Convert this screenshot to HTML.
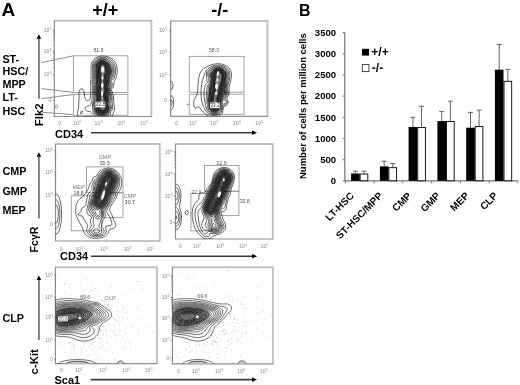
<!DOCTYPE html><html><head><meta charset="utf-8"><style>html,body{margin:0;padding:0;background:#fff;}svg{display:block;will-change:transform}</style></head><body>
<svg width="520" height="385" viewBox="0 0 520 385" font-family='"Liberation Sans", sans-serif'>
<rect width="520" height="385" fill="#fff"/>
<defs>
<clipPath id="cp1"><rect x="54.3" y="20.3" width="97.60000000000001" height="96.2"/></clipPath>
<clipPath id="cp2"><rect x="170.7" y="20.5" width="97.19999999999999" height="95.8"/></clipPath>
<clipPath id="cp3"><rect x="55.5" y="143.5" width="104.80000000000001" height="97.5"/></clipPath>
<clipPath id="cp4"><rect x="175.5" y="143.5" width="97.80000000000001" height="95.5"/></clipPath>
<clipPath id="cp5"><rect x="55.4" y="266.8" width="102.1" height="96.89999999999998"/></clipPath>
<clipPath id="cp6"><rect x="172.4" y="266.8" width="100.99999999999997" height="97.0"/></clipPath>
<filter id="soft" x="-5%" y="-5%" width="110%" height="110%"><feGaussianBlur stdDeviation="0.3"/></filter>
</defs>
<text x="1.6" y="15.7" font-size="19" font-weight="bold">A</text>
<text x="92.3" y="16.1" font-size="18" font-weight="bold">+/+</text>
<text x="211.3" y="16.2" font-size="18" font-weight="bold">-/-</text>
<text x="299" y="16.2" font-size="16" font-weight="bold">B</text>
<path d="M54.3 20.8 H151.4 V116.5" fill="none" stroke="#c2c2c2" stroke-width="1.9"/>
<path d="M54.3 20.3 V116.5 H151.9" fill="none" stroke="#8e8e8e" stroke-width="1.2"/>
<path d="M170.7 21.0 H267.4 V116.3" fill="none" stroke="#c2c2c2" stroke-width="1.9"/>
<path d="M170.7 20.5 V116.3 H267.9" fill="none" stroke="#8e8e8e" stroke-width="1.2"/>
<path d="M55.5 144.0 H159.8 V241.0" fill="none" stroke="#c2c2c2" stroke-width="1.9"/>
<path d="M55.5 143.5 V241.0 H160.3" fill="none" stroke="#8e8e8e" stroke-width="1.2"/>
<path d="M175.5 144.0 H272.8 V239.0" fill="none" stroke="#c2c2c2" stroke-width="1.9"/>
<path d="M175.5 143.5 V239.0 H273.3" fill="none" stroke="#8e8e8e" stroke-width="1.2"/>
<path d="M55.4 267.3 H157.0 V363.7" fill="none" stroke="#c2c2c2" stroke-width="1.9"/>
<path d="M55.4 266.8 V363.7 H157.5" fill="none" stroke="#8e8e8e" stroke-width="1.2"/>
<path d="M172.4 267.3 H272.9 V363.8" fill="none" stroke="#c2c2c2" stroke-width="1.9"/>
<path d="M172.4 266.8 V363.8 H273.4" fill="none" stroke="#8e8e8e" stroke-width="1.2"/>
<text x="51.5" y="31.7" font-size="5.2" fill="#8a8a8a" text-anchor="end">10<tspan font-size="3.6399999999999997" dy="-2">5</tspan></text>
<text x="51.5" y="53" font-size="5.2" fill="#8a8a8a" text-anchor="end">10<tspan font-size="3.6399999999999997" dy="-2">4</tspan></text>
<text x="51.5" y="76.3" font-size="5.2" fill="#8a8a8a" text-anchor="end">10<tspan font-size="3.6399999999999997" dy="-2">3</tspan></text>
<text x="51.5" y="102.2" font-size="5.2" fill="#8a8a8a" text-anchor="end">0</text>
<text x="59.5" y="124.6" font-size="5.2" fill="#8a8a8a" text-anchor="middle">0</text>
<text x="77" y="124.6" font-size="5.2" fill="#8a8a8a" text-anchor="middle">10<tspan font-size="3.6399999999999997" dy="-2">2</tspan></text>
<text x="98.5" y="124.6" font-size="5.2" fill="#8a8a8a" text-anchor="middle">10<tspan font-size="3.6399999999999997" dy="-2">3</tspan></text>
<text x="121.3" y="124.6" font-size="5.2" fill="#8a8a8a" text-anchor="middle">10<tspan font-size="3.6399999999999997" dy="-2">4</tspan></text>
<text x="144" y="124.6" font-size="5.2" fill="#8a8a8a" text-anchor="middle">10<tspan font-size="3.6399999999999997" dy="-2">5</tspan></text>
<text x="166.8" y="31.8" font-size="5.2" fill="#8a8a8a" text-anchor="end">10<tspan font-size="3.6399999999999997" dy="-2">5</tspan></text>
<text x="166.8" y="53.6" font-size="5.2" fill="#8a8a8a" text-anchor="end">10<tspan font-size="3.6399999999999997" dy="-2">4</tspan></text>
<text x="166.8" y="76.6" font-size="5.2" fill="#8a8a8a" text-anchor="end">10<tspan font-size="3.6399999999999997" dy="-2">3</tspan></text>
<text x="166.8" y="102" font-size="5.2" fill="#8a8a8a" text-anchor="end">0</text>
<text x="176.4" y="124.6" font-size="5.2" fill="#8a8a8a" text-anchor="middle">0</text>
<text x="193" y="124.6" font-size="5.2" fill="#8a8a8a" text-anchor="middle">10<tspan font-size="3.6399999999999997" dy="-2">2</tspan></text>
<text x="214" y="124.6" font-size="5.2" fill="#8a8a8a" text-anchor="middle">10<tspan font-size="3.6399999999999997" dy="-2">3</tspan></text>
<text x="236.9" y="124.6" font-size="5.2" fill="#8a8a8a" text-anchor="middle">10<tspan font-size="3.6399999999999997" dy="-2">4</tspan></text>
<text x="259.2" y="124.6" font-size="5.2" fill="#8a8a8a" text-anchor="middle">10<tspan font-size="3.6399999999999997" dy="-2">5</tspan></text>
<text x="53" y="152.3" font-size="5.2" fill="#8a8a8a" text-anchor="end">10<tspan font-size="3.6399999999999997" dy="-2">5</tspan></text>
<text x="53" y="173.8" font-size="5.2" fill="#8a8a8a" text-anchor="end">10<tspan font-size="3.6399999999999997" dy="-2">4</tspan></text>
<text x="53" y="197" font-size="5.2" fill="#8a8a8a" text-anchor="end">10<tspan font-size="3.6399999999999997" dy="-2">3</tspan></text>
<text x="53" y="225.6" font-size="5.2" fill="#8a8a8a" text-anchor="end">0</text>
<text x="61.3" y="250.8" font-size="5.2" fill="#8a8a8a" text-anchor="middle">0</text>
<text x="79.5" y="250.8" font-size="5.2" fill="#8a8a8a" text-anchor="middle">10<tspan font-size="3.6399999999999997" dy="-2">2</tspan></text>
<text x="103.8" y="250.8" font-size="5.2" fill="#8a8a8a" text-anchor="middle">10<tspan font-size="3.6399999999999997" dy="-2">3</tspan></text>
<text x="127.6" y="250.8" font-size="5.2" fill="#8a8a8a" text-anchor="middle">10<tspan font-size="3.6399999999999997" dy="-2">4</tspan></text>
<text x="150.4" y="250.8" font-size="5.2" fill="#8a8a8a" text-anchor="middle">10<tspan font-size="3.6399999999999997" dy="-2">5</tspan></text>
<text x="172.5" y="153.5" font-size="5.2" fill="#8a8a8a" text-anchor="end">10<tspan font-size="3.6399999999999997" dy="-2">5</tspan></text>
<text x="172.5" y="175.7" font-size="5.2" fill="#8a8a8a" text-anchor="end">10<tspan font-size="3.6399999999999997" dy="-2">4</tspan></text>
<text x="172.5" y="197.6" font-size="5.2" fill="#8a8a8a" text-anchor="end">10<tspan font-size="3.6399999999999997" dy="-2">3</tspan></text>
<text x="172.5" y="224.4" font-size="5.2" fill="#8a8a8a" text-anchor="end">0</text>
<text x="180.4" y="248.1" font-size="5.2" fill="#8a8a8a" text-anchor="middle">0</text>
<text x="197" y="248.1" font-size="5.2" fill="#8a8a8a" text-anchor="middle">10<tspan font-size="3.6399999999999997" dy="-2">2</tspan></text>
<text x="220.2" y="248.1" font-size="5.2" fill="#8a8a8a" text-anchor="middle">10<tspan font-size="3.6399999999999997" dy="-2">3</tspan></text>
<text x="242.8" y="248.1" font-size="5.2" fill="#8a8a8a" text-anchor="middle">10<tspan font-size="3.6399999999999997" dy="-2">4</tspan></text>
<text x="264.5" y="248.1" font-size="5.2" fill="#8a8a8a" text-anchor="middle">10<tspan font-size="3.6399999999999997" dy="-2">5</tspan></text>
<text x="53" y="276.6" font-size="5.2" fill="#8a8a8a" text-anchor="end">10<tspan font-size="3.6399999999999997" dy="-2">5</tspan></text>
<text x="53" y="299" font-size="5.2" fill="#8a8a8a" text-anchor="end">10<tspan font-size="3.6399999999999997" dy="-2">4</tspan></text>
<text x="53" y="319.4" font-size="5.2" fill="#8a8a8a" text-anchor="end">10<tspan font-size="3.6399999999999997" dy="-2">3</tspan></text>
<text x="53" y="342.1" font-size="5.2" fill="#8a8a8a" text-anchor="end">10<tspan font-size="3.6399999999999997" dy="-2">2</tspan></text>
<text x="53" y="360.8" font-size="5.2" fill="#8a8a8a" text-anchor="end">0</text>
<text x="61.4" y="372.4" font-size="5.2" fill="#8a8a8a" text-anchor="middle">0</text>
<text x="79" y="372.4" font-size="5.2" fill="#8a8a8a" text-anchor="middle">10<tspan font-size="3.6399999999999997" dy="-2">2</tspan></text>
<text x="103.2" y="372.4" font-size="5.2" fill="#8a8a8a" text-anchor="middle">10<tspan font-size="3.6399999999999997" dy="-2">3</tspan></text>
<text x="126.2" y="372.4" font-size="5.2" fill="#8a8a8a" text-anchor="middle">10<tspan font-size="3.6399999999999997" dy="-2">4</tspan></text>
<text x="148.6" y="372.4" font-size="5.2" fill="#8a8a8a" text-anchor="middle">10<tspan font-size="3.6399999999999997" dy="-2">5</tspan></text>
<text x="169.5" y="277.6" font-size="5.2" fill="#8a8a8a" text-anchor="end">10<tspan font-size="3.6399999999999997" dy="-2">5</tspan></text>
<text x="169.5" y="299.3" font-size="5.2" fill="#8a8a8a" text-anchor="end">10<tspan font-size="3.6399999999999997" dy="-2">4</tspan></text>
<text x="169.5" y="320" font-size="5.2" fill="#8a8a8a" text-anchor="end">10<tspan font-size="3.6399999999999997" dy="-2">3</tspan></text>
<text x="169.5" y="342.1" font-size="5.2" fill="#8a8a8a" text-anchor="end">10<tspan font-size="3.6399999999999997" dy="-2">2</tspan></text>
<text x="169.5" y="360" font-size="5.2" fill="#8a8a8a" text-anchor="end">0</text>
<text x="178.5" y="372.8" font-size="5.2" fill="#8a8a8a" text-anchor="middle">0</text>
<text x="195.8" y="372.8" font-size="5.2" fill="#8a8a8a" text-anchor="middle">10<tspan font-size="3.6399999999999997" dy="-2">2</tspan></text>
<text x="219" y="372.8" font-size="5.2" fill="#8a8a8a" text-anchor="middle">10<tspan font-size="3.6399999999999997" dy="-2">3</tspan></text>
<text x="241.2" y="372.8" font-size="5.2" fill="#8a8a8a" text-anchor="middle">10<tspan font-size="3.6399999999999997" dy="-2">4</tspan></text>
<text x="263.8" y="372.8" font-size="5.2" fill="#8a8a8a" text-anchor="middle">10<tspan font-size="3.6399999999999997" dy="-2">5</tspan></text>
<path d="M54.6 29.9h-2 M54.6 51.2h-2 M54.6 74.5h-2 M54.6 100.4h-2 M54.6 44.8h-1.2 M54.6 41h-1.2 M54.6 38.4h-1.2 M54.6 36.3h-1.2 M54.6 34.6h-1.2 M54.6 33.2h-1.2 M54.6 32h-1.2 M54.6 30.9h-1.2 M54.6 67.5h-1.2 M54.6 63.4h-1.2 M54.6 60.5h-1.2 M54.6 58.2h-1.2 M54.6 56.4h-1.2 M54.6 54.8h-1.2 M54.6 53.5h-1.2 M54.6 52.3h-1.2 M171 30h-2 M171 51.8h-2 M171 74.8h-2 M171 100.2h-2 M171 45.2h-1.2 M171 41.4h-1.2 M171 38.7h-1.2 M171 36.6h-1.2 M171 34.8h-1.2 M171 33.4h-1.2 M171 32.1h-1.2 M171 31h-1.2 M171 67.9h-1.2 M171 63.8h-1.2 M171 61h-1.2 M171 58.7h-1.2 M171 56.9h-1.2 M171 55.4h-1.2 M171 54h-1.2 M171 52.9h-1.2 M56.1 150.5h-2 M56.1 172h-2 M56.1 195.2h-2 M56.1 223.8h-2 M56.1 165.5h-1.2 M56.1 161.7h-1.2 M56.1 159.1h-1.2 M56.1 157h-1.2 M56.1 155.3h-1.2 M56.1 153.8h-1.2 M56.1 152.6h-1.2 M56.1 151.5h-1.2 M56.1 188.2h-1.2 M56.1 184.1h-1.2 M56.1 181.2h-1.2 M56.1 179h-1.2 M56.1 177.1h-1.2 M56.1 175.6h-1.2 M56.1 174.2h-1.2 M56.1 173.1h-1.2 M175.6 151.7h-2 M175.6 173.9h-2 M175.6 195.8h-2 M175.6 222.6h-2 M175.6 167.2h-1.2 M175.6 163.3h-1.2 M175.6 160.5h-1.2 M175.6 158.4h-1.2 M175.6 156.6h-1.2 M175.6 155.1h-1.2 M175.6 153.9h-1.2 M175.6 152.7h-1.2 M175.6 189.2h-1.2 M175.6 185.4h-1.2 M175.6 182.6h-1.2 M175.6 180.5h-1.2 M175.6 178.8h-1.2 M175.6 177.3h-1.2 M175.6 176h-1.2 M175.6 174.9h-1.2 M56.1 274.8h-2 M56.1 297.2h-2 M56.1 317.6h-2 M56.1 340.3h-2 M56.1 359h-2 M56.1 290.5h-1.2 M56.1 286.5h-1.2 M56.1 283.7h-1.2 M56.1 281.5h-1.2 M56.1 279.8h-1.2 M56.1 278.3h-1.2 M56.1 277h-1.2 M56.1 275.8h-1.2 M56.1 311.5h-1.2 M56.1 307.9h-1.2 M56.1 305.3h-1.2 M56.1 303.3h-1.2 M56.1 301.7h-1.2 M56.1 300.4h-1.2 M56.1 299.2h-1.2 M56.1 298.1h-1.2 M56.1 333.5h-1.2 M56.1 329.5h-1.2 M56.1 326.6h-1.2 M56.1 324.4h-1.2 M56.1 322.6h-1.2 M56.1 321.1h-1.2 M56.1 319.8h-1.2 M56.1 318.6h-1.2 M172.6 275.8h-2 M172.6 297.5h-2 M172.6 318.2h-2 M172.6 340.3h-2 M172.6 358.2h-2 M172.6 291h-1.2 M172.6 287.1h-1.2 M172.6 284.4h-1.2 M172.6 282.3h-1.2 M172.6 280.6h-1.2 M172.6 279.2h-1.2 M172.6 277.9h-1.2 M172.6 276.8h-1.2 M172.6 312h-1.2 M172.6 308.3h-1.2 M172.6 305.7h-1.2 M172.6 303.7h-1.2 M172.6 302.1h-1.2 M172.6 300.7h-1.2 M172.6 299.5h-1.2 M172.6 298.4h-1.2 M172.6 333.6h-1.2 M172.6 329.8h-1.2 M172.6 327h-1.2 M172.6 324.9h-1.2 M172.6 323.1h-1.2 M172.6 321.6h-1.2 M172.6 320.3h-1.2 M172.6 319.2h-1.2" stroke="#777" stroke-width="0.7" fill="none"/>
<rect x="73.4" y="55.8" width="54.5" height="36.6" fill="none" stroke="#9a9a9a" stroke-width="0.9"/>
<rect x="73.4" y="94.3" width="54.5" height="20.9" fill="none" stroke="#9a9a9a" stroke-width="0.9"/>
<rect x="189.3" y="56.4" width="54.7" height="35.8" fill="none" stroke="#9a9a9a" stroke-width="0.9"/>
<rect x="189.3" y="94.2" width="54.7" height="20.1" fill="none" stroke="#9a9a9a" stroke-width="0.9"/>
<rect x="86.5" y="166.9" width="36.5" height="25.9" fill="none" stroke="#9a9a9a" stroke-width="0.9"/>
<rect x="103" y="192.8" width="20" height="24.9" fill="none" stroke="#9a9a9a" stroke-width="0.9"/>
<rect x="71.3" y="195.8" width="30.4" height="35" fill="none" stroke="#9a9a9a" stroke-width="0.9"/>
<rect x="204.5" y="165.5" width="34.5" height="25.8" fill="none" stroke="#9a9a9a" stroke-width="0.9"/>
<rect x="221" y="191.2" width="17.9" height="24.4" fill="none" stroke="#9a9a9a" stroke-width="0.9"/>
<rect x="190.9" y="193.7" width="21.1" height="37.1" fill="none" stroke="#9a9a9a" stroke-width="0.9"/>
<path d="M41.6 62.6 L73.4 55.8 M41.6 88.6 L73.4 92.4 M41.8 98.6 L73.4 94.5 M42.5 112.3 L73.4 114.6" stroke="#8f8f8f" stroke-width="1" fill="none"/>
<path d="M38.9 37.8 V98.7" stroke="#7a7a7a" stroke-width="1.9"/>
<path d="M38.9 34.3 L36.6 38.8 L41.2 38.8 Z" fill="#000"/>
<path d="M38.9 155.7 V218.4" stroke="#7a7a7a" stroke-width="1.9"/>
<path d="M38.9 152.2 L36.6 156.7 L41.2 156.7 Z" fill="#000"/>
<path d="M38.9 279 V340" stroke="#7a7a7a" stroke-width="1.9"/>
<path d="M38.9 275.5 L36.6 280 L41.2 280 Z" fill="#000"/>
<path d="M91 132.8 H253.5" stroke="#3c3c3c" stroke-width="1.6"/>
<path d="M257 132.8 L252 130.5 L252 135.1 Z" fill="#000"/>
<path d="M91 256.3 H253.7" stroke="#3c3c3c" stroke-width="1.6"/>
<path d="M257.2 256.3 L252.2 254 L252.2 258.6 Z" fill="#000"/>
<path d="M90.7 379.6 H253.5" stroke="#3c3c3c" stroke-width="1.6"/>
<path d="M257 379.6 L252 377.3 L252 381.9 Z" fill="#000"/>
<g font-size="11" font-weight="bold">
<text x="55" y="137.6">CD34</text>
<text x="60" y="259.8">CD34</text>
<text x="54.5" y="384.2">Sca1</text>
<text transform="translate(42.8 126.2) rotate(-90)" font-size="11.4">Flk2</text>
<text transform="translate(38.2 252.4) rotate(-90)" font-size="10.6">Fc&#947;R</text>
<text transform="translate(38.2 374.4) rotate(-90)" font-size="11.4">c-Kit</text>
</g>
<g font-size="10.8" font-weight="bold">
<text x="2.4" y="63.1">ST-</text>
<text x="2.4" y="75.4">HSC/</text>
<text x="2.4" y="88.1">MPP</text>
<text x="2.4" y="101.4">LT-</text>
<text x="2.4" y="115">HSC</text>
<text x="2.4" y="175">CMP</text>
<text x="2.4" y="195">GMP</text>
<text x="2.4" y="214">MEP</text>
<text x="2.4" y="322">CLP</text>
</g>
<g clip-path="url(#cp1)"><g filter="url(#soft)">
<path d="M103.3 115.1 101.3 115.1 98.8 114.5 97.5 113.9 96.5 112.8 95.6 111.5 95.3 110.5 95.4 107.3 94.9 104 95 102.8 96.3 99 96.5 97.8 95.8 91 96.3 85 95.9 82 96.2 79.8 96 77 96.2 68 95.6 65 96.2 63.8 98.5 61.5 100.3 60.6 102.3 60.3 104 60.5 105.5 61 109.1 64 111 67.8 111.4 69.5 111.6 71 111.4 72.5 110.9 74.5 109.9 77 108.5 79.8 108.2 81 108.6 84.5 107.9 87.8 108.2 91 108.2 94.3 108.6 98.5 108.4 100.3 107.7 103.5 107.9 104.3 109 106.8 109.1 108.5 108.9 109.3 106.6 113.5 105.3 114.5 103.3 115.1Z" fill="#4a4a4a" stroke="none"/>
<path d="M103 113.1 101 113 98.3 112 97.5 111.3 97.2 110.3 97.3 108.3 97.1 104 97.2 103 98.4 98.8 98 90.5 98.2 89 99.1 86.5 99.3 85.3 98.6 82 98.6 79.5 97.9 76.8 97.8 72 98.3 68.3 98.1 65.5 98.7 64.3 99.9 63 101 62.4 102.5 62.1 103.5 62.3 104.5 62.6 106.5 64.3 108.5 69.5 108.9 71.3 108.8 72.5 108.3 74.3 107.8 75.1 106.7 76.3 106.5 77 106.6 78.8 106.5 84.3 106 87.5 106.4 90.8 105.9 94.8 106.5 100 106 103.8 106.2 105 107.2 107 107.3 108.3 106.9 109.5 105.3 111.9 104.3 112.7 103 113.1Z" fill="#333" stroke="none"/>
<path d="M102.8 79.3 101.8 78.7 101 77.5 101 76.7 102 75.3 102.2 74.5 102 73.8 100.7 72.5 100.5 71.3 101 65.8 101.7 64.8 102.8 64.4 104 64.8 104.7 65.8 105.6 71.3 105.3 72.7 103.9 76 103.4 78.5 102.8 79.3Z M103.8 110.1 102.5 110.2 101 109.5 99.6 108 99.1 106.8 100.2 100.8 100.9 94.5 100.4 90.8 100.8 89.7 102.6 86.5 101.8 83.8 101.7 82 102 80.7 102.8 80.1 103.3 80.6 103.7 82 103.9 84 103.5 86.5 104.5 89.3 104.7 90.5 104.4 92.3 103.1 94.3 102.9 95 104.4 99.8 103.9 105 104.1 105.8 105.1 107.3 105.3 108 104.8 109.3 103.8 110.1Z" fill="#777" stroke="none"/>
<path d="M104.5 120.6 101.5 120.6 98.5 120 96.3 119 92.3 116.4 91 116 88.3 116.3 85.5 116.3 82 117.8 80.3 117.9 79.3 117.4 78.3 116.5 77.7 115.3 77.4 113.8 77.5 112 78.6 107.5 78.8 102.5 79.2 97.8 78.9 93 79.4 90.5 80 89.5 81 88.8 82 88.8 82.9 89.3 83.6 90.3 84.1 91.5 84.7 96.8 85.6 99.3 86.5 100.3 87.5 100.7 88.8 100.6 89.5 100.1 90.3 98.3 90.7 94.5 90.8 86 90.6 82 90.9 79.5 91.1 65.8 91.5 63.3 92.2 61.5 93 60.3 94 59.1 95.3 58.1 97 57.2 98.5 56.6 100.5 56.2 102.3 56 105.3 56.2 108.3 57 111 58.2 113 59.7 114.6 61.5 116 64 116.9 67 117.3 70.3 117.2 72.5 116.9 74.8 115.9 78 114.1 81.8 113.4 87.3 112.9 88 111.3 89 110.9 89.5 111 90.1 112.4 91.5 112.5 93.3 113.5 96 113.7 101.5 114.5 107.8 114.3 110.3 112.7 115 111.3 117.1 109.8 118.4 108.3 119.3 106.3 120.2 104.5 120.6" fill="none" stroke="#000" stroke-width="0.6"/>
<path d="M103.3 118.8 101.5 118.8 99.8 118.5 98 117.9 96.5 117.2 94.3 115.5 90.5 111.8 89.8 111.5 87.8 111.5 86.5 110.8 85.4 109.5 85 108.3 85.1 107.5 86.3 106.5 87.5 106 89.5 105.9 90.3 105.3 90.8 104.3 91.9 100.5 92.3 95.3 92.4 85.5 91.9 82 92.4 79.3 92.5 65.5 92.9 63.5 93.5 62 94.4 60.8 96.5 58.9 99.3 57.7 102.5 57.3 105 57.5 107.5 58.2 110 59.4 112.1 61 113.7 63 114.7 65.3 115.5 68 115.7 70.8 115.4 74.3 114 78.3 113 79.6 111.2 80.5 110.8 81 111 81.5 112 82.8 112.3 83.8 111.9 87 111.5 87.8 110.5 88.9 110.3 89.5 111.2 91.5 111.3 93.5 112.3 97.5 112.1 102 112.7 107 112.7 109.3 112.1 110.3 110.5 111.6 110.4 112.3 110.5 114.5 110.2 115.3 109.4 116.3 108.3 117.2 106.8 118 105.3 118.5 103.3 118.8 M81.5 113.8 80.8 113.8 80.5 113.3 80.5 112.5 81 111.4 82 110.7 82.4 111 82.5 112 82.2 113 81.5 113.8" fill="none" stroke="#000" stroke-width="0.6"/>
<path d="M104.3 117.3 102.3 117.5 100.3 117.3 98.3 116.7 96.5 115.8 95 114.5 93.7 112.8 92.9 111 92.6 109 92.5 103.8 93.2 100.3 93.7 95.5 93.4 90.8 93.7 84.5 92.9 82 93.6 79.5 93.6 64.5 94.9 62 96.8 60 99.3 58.8 102.3 58.2 104.5 58.4 106.8 59.1 109 60.4 111.3 62.2 112.5 63.8 113.5 65.8 114.2 68.3 114.4 70.5 114.1 73.8 113 77.3 112 78.8 110.2 80.3 109.9 81 110.1 81.8 110.9 83.3 111 84.3 110.8 86.3 109.7 89.5 110.2 91.5 110.3 93.8 111.4 97.8 111.3 99 110.7 102.8 111.4 106.5 111.4 108.8 111 109.8 109.5 111.4 109.1 114 108.5 115.1 106.8 116.5 104.3 117.3" fill="none" stroke="#000" stroke-width="0.6"/>
<path d="M102.5 116.6 100.3 116.4 98 115.6 96.5 114.7 95 113 94.3 111.8 93.9 110.5 93.7 106.8 93.4 104 94.3 99.9 94.8 96.3 94.4 90.5 94.8 84.3 93.9 82 94.6 79.5 94.7 68.3 94.3 65.8 94.3 64.8 94.7 63.8 95.5 62.6 97.5 60.5 99.8 59.4 102.5 59 104.5 59.2 106.5 60 110.8 63.3 111.8 64.8 112.6 66.8 113.2 69 113.4 71 113 73.5 112.2 76.3 111.3 78 109.6 80 109.3 81 110 83.5 110.1 84.5 109.9 85.8 109.3 88 109.1 89.5 109.5 91.5 109.6 94 110.5 98.3 109.4 103.3 110.4 106.5 110.5 108.8 110.2 109.5 108.9 111.3 108.3 113.5 107.5 114.8 106.5 115.5 105.3 116.1 102.5 116.6" fill="none" stroke="#000" stroke-width="0.6"/>
<path d="M104 115.6 102 115.8 99.8 115.4 97.8 114.7 96.3 113.4 95.3 112 94.7 110.8 94.7 107 94.2 104 94.3 103 95.4 99 95.7 97.3 95.2 90.8 95.7 84.3 95 82 95.5 79.8 95.3 77 95.5 68.3 95 65 95.7 63.5 98 61.1 100 60.1 102.3 59.7 104.3 59.9 105.8 60.5 109.8 63.7 110.7 65 111.6 67 112.2 69 112.4 70.8 112.2 72.8 111.5 75.3 110.4 77.8 109 79.9 108.7 81 109.3 84.5 108.6 87.5 108.6 89.3 108.8 91.3 108.8 94 109.4 98.3 108.4 103.3 108.5 104 109.6 106.5 109.7 108.5 109.4 109.5 108.3 111.1 107.7 113 107.2 113.8 105.8 114.9 104 115.6" fill="none" stroke="#000" stroke-width="0.6"/>
<path d="M102.5 115.1 100.5 114.9 98.3 114.2 97.3 113.5 96.2 112.3 95.4 110.5 95.5 107.5 95 103.8 95.1 102.8 96.5 98.8 96.6 97.8 95.9 91 96.4 85.3 96.3 83.8 96 82 96.3 79.8 96.1 77 96.3 68 95.7 65 96.4 63.8 98.8 61.5 100.5 60.7 102.5 60.4 104.3 60.6 105.5 61.1 109 64 110.8 67.8 111.3 69.5 111.4 71 111.3 72.8 110.7 74.8 108.5 79.8 108.2 81 108.5 84.5 107.8 87.8 108.2 91 108.1 94 108.5 98.8 107.6 103.5 107.8 104.4 108.9 106.8 109 108.5 107 112.8 106.4 113.5 104.8 114.6 102.5 115.1" fill="none" stroke="#000" stroke-width="0.6"/>
<path d="M103.3 113.8 101.8 113.9 100.1 113.5 98 112.8 97 111.8 96.5 110.3 96.7 107.8 96.2 104 96.4 102.8 97.6 99.5 97.8 98 97.4 94.8 97.2 91.5 97.3 89.3 97.9 85.8 97.5 82.3 97.6 79.5 97.2 76.8 97.1 71.8 97.5 67.8 97.1 65.3 97.6 64.3 99.5 62.4 101 61.7 102.5 61.5 103.8 61.6 104.9 62 107.5 64.3 109.4 68.8 109.9 71.3 109.4 74 108 77.3 107.3 80 107.2 84.8 106.7 87.5 107.1 90.5 106.8 94.5 107.2 99.5 106.6 103.8 106.8 104.8 107.9 107 108 108.5 107.6 109.5 105.7 112.5 104.8 113.3 103.3 113.8" fill="none" stroke="#000" stroke-width="0.45"/>
<path d="M103.5 112.1 102.5 112.3 101.8 112.2 99.8 110.9 98.3 110.4 98.1 109.8 97.8 106.8 98 103.5 99.1 98.5 98.8 90.3 99.2 88.8 100.2 86.8 100.4 85.8 99.7 81.5 99.6 79.5 98.6 77 98.4 71.8 99 68.8 99.1 65.8 99.4 64.8 100 63.9 100.8 63.3 102.5 62.8 104.3 63.2 105.8 64.5 107.6 70 107.9 71.5 107.5 73.3 105.8 75.5 105.4 77 105.7 79.5 105.8 83.8 105.4 87.5 105.8 90.8 105 94.8 105.9 100 105.3 104.3 105.6 105.3 106.6 107.3 106.7 108.3 106.4 109.3 105.5 110.5 104.5 111.5 103.5 112.1" fill="none" stroke="#000" stroke-width="0.45"/>
<path d="M102.8 79.3 101.8 78.7 101 77.5 101 76.7 102 75.3 102.2 74.5 102 73.8 100.7 72.5 100.5 71.3 101 65.8 101.7 64.8 102.8 64.4 104 64.8 104.7 65.8 105.6 71.3 105.3 72.7 103.9 76 103.4 78.5 102.8 79.3 M103.8 110.1 102.5 110.2 101 109.5 99.6 108 99.1 106.8 100.2 100.8 100.9 94.5 100.4 90.8 100.8 89.7 102.6 86.5 101.8 83.8 101.7 82 102 80.7 102.8 80.1 103.3 80.6 103.7 82 103.9 84 103.5 86.5 104.5 89.3 104.7 90.5 104.4 92.3 103.1 94.3 102.9 95 104.4 99.8 103.9 105 104.1 105.8 105.1 107.3 105.3 108 104.8 109.3 103.8 110.1" fill="none" stroke="#000" stroke-width="0.45"/>
</g></g>
<path d="M102.6 67 L102.4 80 L102 99" stroke="#9a9a9a" stroke-width="1.6" fill="none"/>
<ellipse cx="102.6" cy="69.5" rx="1.6" ry="3" transform="rotate(0 102.6 69.5)" fill="#f2f2f2"/>
<ellipse cx="102.5" cy="78" rx="1.1" ry="1.8" transform="rotate(0 102.5 78)" fill="#f2f2f2"/>
<ellipse cx="102.3" cy="85.5" rx="1.3" ry="2.4" transform="rotate(0 102.3 85.5)" fill="#f2f2f2"/>
<ellipse cx="102.1" cy="93.5" rx="1.1" ry="2.4" transform="rotate(0 102.1 93.5)" fill="#f2f2f2"/>
<g clip-path="url(#cp2)"><g filter="url(#soft)">
<path d="M216 112.3 215 112.5 213.8 112.3 211.8 111.5 210.2 110 209.6 109 209.3 108 209.4 105 208.4 101.8 208.3 100 209.1 91.5 209.3 87.5 209.6 86.2 210.7 83.8 210.7 80.8 211 78.8 210.9 78 209.8 75.5 209.6 74.2 210.2 73 214 69.3 216.2 68.3 218.8 68 221.5 68.6 222.8 69.2 224 70.1 225 71.2 225.8 72.5 226.3 73.8 226.4 75 225.5 81 225.3 85.8 224.5 88.8 225.2 91.5 225.1 93 224.8 93.8 223 95.6 222 97.5 220.6 103.5 220.1 106.8 219.5 108.5 217.8 111.1 217 111.8 216 112.3Z" fill="#4a4a4a" stroke="none"/>
<path d="M215.5 110 214.5 110.1 213.5 110 212.7 109.5 212.2 108.8 211.2 105.3 210.6 100 211.1 96.8 211.3 93.5 212.9 88 212.8 86.8 213 84.5 212.8 81.5 213.3 78.8 213.1 76 213.3 74.5 214.2 72.2 215.2 70.9 216.8 70 218.8 69.8 220.8 70.3 222.5 71.5 223.9 73.5 224.2 75 223.1 83.8 221.9 87.2 221.1 93.2 220.2 96 219.1 98.5 219.2 101.2 218.3 106 217.8 107.4 217 108.7 216.2 109.6 215.5 110Z" fill="#333" stroke="none"/>
<path d="M214.8 106.8 214.2 106.5 213.5 105 213.2 103.8 213.1 101.8 213.6 97.8 213.6 94.2 215.1 92.2 216.2 88.5 215.5 86.5 214.8 81.8 215.7 79 215.6 75.8 216 73.4 216.5 72.5 217 72 217.8 71.6 218.5 71.6 219.5 71.9 220.2 72.5 221.4 74.2 221.6 75.5 221.7 79.8 221.2 81.8 219.5 86 218 95.6 216.3 98.2 217 101 216.8 103.3 215.8 106 215.2 106.6 214.8 106.8Z" fill="#777" stroke="none"/>
<path d="M215.5 117 213.5 117.2 211.2 116.9 209 116.2 207 115.2 205.3 114 203.6 112.5 199.8 107.9 198.8 107 197.8 107 195.8 108.2 195 108.1 194.5 107.5 194 106.2 193.7 104.5 193.7 102.8 193.9 100.8 194.4 99.2 196.5 95.8 197.2 93.8 197.7 90.2 198.3 81.5 198.8 77.8 199.7 74 201.2 71 202.2 69.6 203.8 68.4 206.5 66.9 209.8 65.4 214 64.1 216.5 63.7 218.8 63.7 221.5 64.1 224 64.8 226.2 65.9 228.4 67.5 229.9 69.2 230.9 71.2 231.5 73.2 231.5 75.8 230.9 80 229 87.5 229.1 92 229 94 228.6 95.2 227.2 97.1 226.9 98 227 98.9 228.1 101.8 228.1 102.8 227.8 103.8 227.4 104.5 226.8 105.2 224.5 106.2 223.8 107 223.2 108.5 222.7 112 222.3 113 221.5 114 220.2 115 218.8 115.9 217 116.6 215.5 117 M171.2 89.6 170.5 89.5 169.8 88.7 169.2 87.2 169 85.8 169.1 84.2 169.5 82.8 170.2 81.8 171 81.5 171.8 81.8 172.3 82.5 172.8 83.8 173 85.2 172.9 86.8 172.6 88 172 89 171.2 89.6 M171.5 109.4 170.8 109.5 170.2 109.2 169.3 108 168.6 106 168.2 103.2 168.4 100.5 168.9 98 169.9 96.2 170.5 95.8 171 95.7 172 96.2 172.8 97.5 173.5 99.5 173.7 102 173.6 104.5 173.2 106.8 172.5 108.4 171.5 109.4" fill="none" stroke="#000" stroke-width="0.6"/>
<path d="M215.8 115.5 214.2 115.7 212.5 115.5 211 115.1 209.5 114.4 207.1 112.5 205.1 109.8 202.6 104.2 201.5 100.2 201 95.5 201.1 89.2 201.6 84.5 202.3 80.8 204.2 75.5 205.1 72.5 206.2 70.5 208.2 68.5 212.2 66.1 215.5 65.1 218.8 65 221.2 65.3 223.2 65.9 225.2 66.9 227.2 68.4 228.4 69.8 229.4 71.5 229.9 73.5 230 75.8 229.6 79 227.6 87.5 227.6 88.8 228 91.8 228 93.8 227.6 94.8 225.9 97 225.4 98.2 225.6 99.2 227 101.5 227.2 102.5 227 103.2 226.2 104.3 224.2 105.2 223.5 105.9 222.8 107.5 221.9 111 220.8 112.8 218.5 114.5 215.8 115.5 M171.2 105.3 170.8 105.3 170.3 104.8 169.9 103 170.2 100.8 170.5 100.1 171 99.8 171.5 100.1 171.8 100.5 172.1 102.2 171.9 104.2 171.2 105.3" fill="none" stroke="#000" stroke-width="0.6"/>
<path d="M215.5 114.5 213 114.4 210.5 113.5 208.5 112 207 109.8 206.4 108.2 204.6 100.8 204.1 95.8 204.2 91.2 204.6 87.5 205.2 85.2 205.7 84.2 207.2 83.2 207.6 82.5 206.7 80.5 206.8 77.8 206.4 74.8 206.5 73 207.1 71.5 208.8 69.8 213 67 216 66.1 219 66 221 66.3 223 66.9 224.8 67.8 226.3 69 227.5 70.5 228.4 72.2 228.8 74 228.8 75.8 228.5 78.5 226.7 87.8 226.7 89 227.1 91.8 227.1 93.5 226.6 94.8 224.6 97.2 224.1 98.8 224.3 100 225.8 101.5 226 102 226 102.8 225.3 103.5 223.8 103.9 223 104.5 221.2 110 220 112 217.8 113.8 215.5 114.5" fill="none" stroke="#000" stroke-width="0.6"/>
<path d="M215.2 113.8 213.2 113.6 211.5 113 210 112 208.8 110.8 207.8 108.8 207.6 107.5 207.6 105.2 206.4 101.8 206.2 99.8 206.4 94 207 87.8 207.5 85.8 209 83.5 209.2 82.8 208.7 80.5 208.7 78.2 207.7 75.5 207.5 73.8 207.8 72.5 208.5 71.4 213 68.1 215.8 67 219 66.8 220.8 67.1 222.5 67.6 224 68.4 225.5 69.5 226.7 71 227.4 72.5 227.8 74 227.9 75.5 226 88.2 226.4 92 226.2 93.8 225.7 94.8 224.1 96.5 223.4 97.8 222.7 102 221.1 108 220.2 110 219.2 111.5 218 112.7 216.8 113.4 215.2 113.8" fill="none" stroke="#000" stroke-width="0.6"/>
<path d="M215.5 113 213.2 112.8 211.2 112 209.5 110.2 208.6 108.2 208.7 105 207.6 102 207.5 99.8 208.4 87.5 208.8 86 210.1 83.2 209.9 80.5 210.1 78.8 210 78 208.7 75.2 208.5 73.8 208.7 73 209.3 72.2 213.8 68.6 216.2 67.7 219 67.5 221.8 68.1 224 69.3 225.7 71 226.9 73.5 227 75.5 226.1 81.2 225.8 85.5 225.2 88.8 225.8 92.5 225.3 94.2 223.5 96 222.6 97.8 220.6 107 219.9 109 218.8 110.8 217.8 111.9 216.8 112.6 215.5 113" fill="none" stroke="#000" stroke-width="0.6"/>
<path d="M215.8 112.3 213.8 112.2 211.8 111.4 210.1 109.8 209.4 108 209.5 105 208.6 102 208.4 100 209.3 91.5 209.5 87.5 209.8 86.2 210.8 83.8 210.8 80.8 211.1 78.8 211 77.9 209.9 75.5 209.8 74.2 210.4 73 214 69.4 216.2 68.4 218.8 68.1 221.2 68.6 223.5 69.8 225.1 71.5 226.2 73.8 226.3 75.2 225.3 81.2 225.3 85.5 224.4 88.8 224.4 89.5 225.1 91.2 225.2 92.2 224.8 93.6 223 95.4 221.9 97.5 220.5 103.5 220 106.8 219.3 108.5 217.5 111.2 216.8 111.8 215.8 112.3" fill="none" stroke="#000" stroke-width="0.6"/>
<path d="M215.2 111 213.8 110.9 212.8 110.6 211.8 109.8 211.1 108.8 210.7 107.8 210.5 104.5 209.9 101.8 209.8 99.8 210.5 93.8 211 91.2 211.1 88.8 212.2 84.2 212 81.2 212.5 78.5 212 76 212.1 74.8 213.4 72 214.8 70.4 216.5 69.4 218.8 69.1 221 69.7 223 70.9 224.7 73.2 225 74.2 225.1 75 224.1 81 224 85 222.9 87 222.6 88 222.4 92.2 221.6 94.8 220.2 98.5 219.9 101.2 218.9 106.5 218.3 108 217.2 109.8 216.2 110.7 215.2 111" fill="none" stroke="#000" stroke-width="0.45"/>
<path d="M214.8 109.3 213.8 109.1 213.1 108.5 211.8 104.5 211.3 100.2 211.9 96.8 211.9 94 212.2 93 213.1 91.5 213.5 90 214.2 88.2 213.8 86.5 213.5 81.8 214.1 78.8 214 75.8 214.4 73.8 215.1 72.2 216 71.2 217.2 70.5 218.8 70.4 220.5 70.9 222 72 223.2 73.8 223.4 75.2 222.4 83.2 221.2 87 220.1 93.8 219.4 96.2 218.2 98.5 218.5 101.2 217.7 105.5 217.2 107 216.4 108.2 215.8 108.9 214.8 109.3" fill="none" stroke="#000" stroke-width="0.45"/>
<path d="M214.8 106.8 214.2 106.5 213.5 105 213.2 103.8 213.1 101.8 213.6 97.8 213.6 94.2 215.1 92.2 216.2 88.5 215.5 86.5 214.8 81.8 215.7 79 215.6 75.8 216 73.4 216.5 72.5 217 72 217.8 71.6 218.5 71.6 219.5 71.9 220.2 72.5 221.4 74.2 221.6 75.5 221.7 79.8 221.2 81.8 219.5 86 218 95.6 216.3 98.2 217 101 216.8 103.3 215.8 106 215.2 106.6 214.8 106.8" fill="none" stroke="#000" stroke-width="0.45"/>
</g></g>
<path d="M218.3 71 L217.2 82 L216.2 95" stroke="#9a9a9a" stroke-width="1.5" fill="none"/>
<ellipse cx="218" cy="73.5" rx="1.1" ry="2.2" transform="rotate(5 218 73.5)" fill="#eee"/>
<ellipse cx="217.4" cy="80" rx="1" ry="1.8" transform="rotate(5 217.4 80)" fill="#eee"/>
<ellipse cx="216.6" cy="86.4" rx="1.6" ry="2.8" transform="rotate(5 216.6 86.4)" fill="#eee"/>
<ellipse cx="216.2" cy="93" rx="1" ry="1.6" transform="rotate(0 216.2 93)" fill="#eee"/>
<g clip-path="url(#cp3)"><g filter="url(#soft)">
<path d="M99.2 207.8 97 207.8 95.3 207 94.2 205.5 93.9 203.5 94.4 200.5 99.7 184.8 101.9 179.8 103.4 177.2 104.8 175.5 106 174.5 107.5 173.9 109.2 173.8 110.8 174.1 112 174.7 112.9 175.5 113.7 176.5 114.2 177.8 114.5 180.2 113.7 183.5 111.7 188.5 104.1 204 103.2 205.2 102 206.4 100.8 207.2 99.2 207.8Z" fill="#6a6a6a" stroke="none"/>
<path d="M99.8 205.6 98.2 205.7 96.8 205 96 203.8 95.9 202.2 96.6 199.2 101.4 185 103.4 180.2 105.5 177 106.5 176.1 107.8 175.5 109 175.3 110.2 175.6 111.2 176.1 112 176.8 112.8 178.5 112.9 180.5 112.2 183.2 110.3 187.5 103 202.5 101.5 204.6 99.8 205.6Z" fill="#555" stroke="none"/>
<path d="M98.5 238.3 94.5 238.4 90.5 237.6 88.8 236.8 87 235.8 85.7 234.8 84.7 233.5 83.6 231.5 82 227 78.7 221 76.2 215.5 75.9 214 75.6 210.2 75.9 206.2 76.8 203.2 78.2 200.5 80 198.6 83.8 195.6 88 189.5 88.8 187.7 89.8 183.8 92 181.2 93 178 93.6 177 94.2 176.5 96 176.4 96.5 176.1 98.5 172.2 100 171 102.2 169.6 104.5 168.7 106.5 168.2 108.8 168.1 110.8 168.3 113 168.9 115 169.9 116.8 171.2 118.3 172.8 119.6 174.5 120.6 176.5 121.4 178.8 121.8 181.2 121.7 185 120.6 188.8 119.5 190.8 117.5 193.5 116.4 197.5 111.5 204.8 110.1 207.8 109.6 209.2 109.8 210.8 112.2 215.5 113.8 220.3 115.7 223.8 115.9 225.5 115.2 227 114.1 228 113 228.5 110.5 229.1 109.6 229.5 109.2 230 108.5 232.2 107.9 233.5 106.9 234.8 105.8 235.8 104.2 236.7 102.8 237.3 98.5 238.3 M50 213.5 50.1 209.5 50.5 205.5 51.1 202 51.9 199 52.9 196.5 54 194.7 55 193.9 56.2 193.8 57.2 194.3 58.3 195.8 59.3 197.8 60.1 200.2 61.2 206.5 61.6 214 61.2 221.5 60.1 227.8 59.3 230.2 58.3 232.2 57.2 233.7 56.2 234.2 55 234.1 54 233.3 52.9 231.5 51.9 229 51.1 226 50.5 222.5 50.1 218.5 50 214.5" fill="none" stroke="#000" stroke-width="0.6"/>
<path d="M97.8 236.8 94.8 236.7 92 236.1 89.6 235 87.9 233.5 87 232 86.6 230.2 86.8 228.5 87.7 225.8 87.4 224.5 85 221 82.2 216 81.8 215.7 80 215.9 79 215.7 78.3 215 78.2 214 78.8 213 80.5 212.2 81 211.8 81.4 209.2 82.1 208 83 207.3 85 206.4 85.8 205.4 86.2 203.6 87.1 197 87.5 195.2 88.7 193.2 91.1 191.2 91.7 190.5 91.9 189.5 91.8 186.8 92 185.2 94.8 179.7 97.3 177.5 99.2 174.2 100 173.1 102.8 170.9 104.8 169.9 106.5 169.4 108.8 169.3 110.8 169.5 112.8 170.2 114.5 171.1 116.1 172.2 117.4 173.8 118.4 175.2 119.2 177 119.7 179 119.8 181 119.7 183.8 119.1 186.5 117.9 189.5 115.7 193.5 115.2 196.8 112 200.8 107.5 208.6 106.9 210.2 106.9 211.8 107.5 213.6 109.8 216.8 110.6 218.5 111.9 223.2 112 224.2 111.6 225 111 225.3 106.8 226 105.9 226.5 105.7 227.2 106.2 230 106.2 231.5 105.6 233 104.5 234.4 103.2 235.2 101.8 235.9 99.8 236.5 97.8 236.8 M55.8 228.5 55 228.2 54.2 227.5 53.5 226.1 52.9 224.2 52 219.5 51.7 214 52 208.5 52.9 203.8 53.5 201.9 54.2 200.5 55 199.8 55.8 199.5 56.5 199.7 57.3 200.5 58 201.8 58.7 203.8 59.6 208.5 59.9 214 59.6 219.5 58.7 224.2 58 226.2 57.3 227.5 56.5 228.3 55.8 228.5" fill="none" stroke="#000" stroke-width="0.6"/>
<path d="M98 235.5 95.2 235.5 92.5 234.9 90.5 233.7 89.8 233 89.2 232 88.9 230.8 89.1 229.5 90.9 226.8 91.3 225.8 91.2 224.7 90.3 222 90.2 221 90.4 220.2 91.4 218.5 91.5 217.5 91.2 216.8 90.8 216.1 88.4 214.8 87.4 213.5 86.8 211.2 87 208.8 89 200.5 89.7 196.5 90.3 195.2 92.5 192.5 93.2 191 93.5 189.8 93.7 185.2 95.4 181.2 98 178.1 100.7 174 103 171.9 104.8 170.8 106.5 170.3 108.5 170.1 110.5 170.4 112.8 171.1 114.5 172.1 116.1 173.5 117.3 175.2 118.1 177 118.6 179 118.6 181.2 118.3 183.8 117.1 187.8 114.3 193.5 113.4 196.5 111.2 199.6 105.2 210.2 105 211.5 105.3 214.8 105.2 216.2 104.7 217.5 103 220.4 101.6 225.8 101.9 227 103.5 229.2 104 230.2 104.1 231.2 103.9 232.2 103.2 233.3 102 234.3 100 235.1 98 235.5 M56.2 222.8 55.8 223 55.2 222.8 54.2 221.2 53.6 218.5 53.2 215 53.4 211.2 53.9 208 54.8 205.8 55.2 205.2 55.8 205 56.2 205.2 56.8 205.7 57.5 207.3 58.1 209.8 58.3 213 58.3 216.5 57.8 219.5 57.1 221.8 56.2 222.8" fill="none" stroke="#000" stroke-width="0.6"/>
<path d="M98.2 234.3 96 234.4 93.8 234 92 233 91.4 232.2 91 231.5 91 230.5 91.3 229.5 93.6 227 94.1 226 94.1 225.2 93.1 222 93.6 218.5 92.8 216.2 90.1 212.8 89.1 211 88.7 208.8 89 206 91.2 197.8 94.1 191.2 95.1 185 95.7 183.2 96.6 181.5 101.2 174.8 103.5 172.4 105 171.5 106.5 171 108.2 170.8 110.2 171 112.2 171.6 113.8 172.4 115.3 173.8 116.5 175.2 117.3 177 117.7 178.8 117.7 180.8 117.4 183 116.9 185.2 115.7 188.5 113.2 193.3 111.9 196.5 106.9 205.8 103.9 210.2 103.7 211.2 103.9 214 103.6 215.5 102.9 217 100.8 220 100 223 98.6 226 98.7 226.5 99.1 227.2 101.6 230 102 231 102 231.8 101.6 232.5 100.8 233.2 99.8 233.8 98.2 234.3" fill="none" stroke="#000" stroke-width="0.6"/>
<path d="M98.2 219.1 97 219 95.5 217.7 93.9 215.5 90.5 210 90.1 208.5 90 207 90.9 202 92.1 198.2 94.8 191.5 96.1 185.5 96.7 183.5 97.9 181 100.7 176.8 103 173.8 105.2 172.1 107.8 171.5 110.8 171.7 112.5 172.4 114 173.4 115.3 174.8 116.3 176.2 116.8 177.8 117 179.5 116.9 181.5 116.4 183.8 114.2 189.8 106.9 204.2 105.5 206.5 103.2 209.2 102.6 210.2 102.4 211.2 102.7 214 102.2 215.8 101.5 216.8 100.5 217.7 98.2 219.1 M97.2 233 95.5 233 93.9 232.2 93.5 231.8 93.2 231 93.4 230.2 93.8 229.8 95 229 96.2 228.7 97.5 229 98.8 229.8 99.4 230.8 99.4 231.8 98.7 232.5 97.2 233" fill="none" stroke="#000" stroke-width="0.6"/>
<path d="M98.5 217 97 216.8 95.5 215.5 91.7 209 91.2 207.5 91.1 206 91.4 203.8 91.9 201.5 95.5 191.5 97.6 183.5 98.8 181 101.1 177.2 103.2 174.4 105.5 172.6 106.8 172.2 108 172 110.8 172.3 112.2 172.9 113.8 173.9 114.8 175 115.7 176.5 116.2 178 116.4 179.5 116.3 181.2 115.8 183.2 113.6 189.2 106.1 204.2 104.5 206.8 101.9 209.5 101.3 210.2 101.1 211.2 101.5 213.8 101 215.2 100 216.4 98.5 217" fill="none" stroke="#000" stroke-width="0.6"/>
<path d="M98.2 215.5 97.2 215.2 96.4 214.5 95.1 211.5 93 209 92.4 207.8 92.1 206.5 92 204.8 92.6 201 96 191.5 98.3 183.5 99.6 180.8 101.7 177.2 103.8 174.6 105.8 173.1 108 172.5 110.8 172.8 112.2 173.4 113.5 174.3 114.6 175.5 115.3 176.8 115.8 178.2 115.9 179.8 115.3 183.2 113.1 189 105.7 204 103.8 206.8 100 210.2 99.7 211.2 100.1 213.2 100 214.2 99.2 215.2 98.2 215.5" fill="none" stroke="#000" stroke-width="0.6"/>
<path d="M98 209.8 97 209.9 96 209.7 95 209.2 94 208.3 93 206.6 92.7 204.2 93.3 200.8 96.5 191.6 98.8 184 99.8 181.5 101.7 178.2 103.2 176 104.5 174.5 106 173.5 107.5 173 109.2 172.9 111 173.3 112.5 174.1 113.6 175 114.6 176.2 115.1 177.5 115.4 179 115.3 180.5 114.4 184.2 112.4 189.2 104.5 205 103.4 206.5 102 207.7 100 208.9 98 209.8" fill="none" stroke="#000" stroke-width="0.6"/>
<path d="M97.8 208.8 95.8 208.4 94.3 207.2 93.5 205.5 93.3 203.2 93.9 200.5 97 191.5 99.4 183.8 100.6 181 102.2 178.2 103.5 176.2 104.9 174.8 106.2 173.8 107.8 173.4 109.5 173.4 111 173.7 112.2 174.4 113.3 175.2 114.2 176.5 114.7 177.8 115 179.2 114.9 180.8 113.9 184.5 111.9 189.2 104.2 204.8 103 206.2 101.5 207.4 99.5 208.4 97.8 208.8" fill="none" stroke="#000" stroke-width="0.6"/>
<path d="M99.2 207.8 97 207.8 95.3 207 94.2 205.5 93.9 203.5 94.4 200.5 99.7 184.8 101.9 179.8 103.4 177.2 104.8 175.5 106 174.5 107.5 173.9 109.2 173.8 110.8 174.1 112 174.7 112.9 175.5 113.7 176.5 114.2 177.8 114.5 180.2 113.7 183.5 111.7 188.5 104.1 204 103.2 205.2 102 206.4 100.8 207.2 99.2 207.8" fill="none" stroke="#000" stroke-width="0.45"/>
<path d="M98.8 207 97 206.8 95.7 206 94.8 204.5 94.7 202.5 95.3 199.8 100.6 184.2 102.8 179.2 104.1 177.2 105.2 175.9 106.5 174.9 107.8 174.5 109 174.3 110.5 174.6 111.5 175.1 112.5 175.9 113.2 176.9 113.7 178 113.9 179.2 113.8 180.5 113 183.8 111.1 188.2 103.5 203.8 102.6 205 101.5 206 100.2 206.7 98.8 207" fill="none" stroke="#000" stroke-width="0.45"/>
<path d="M99.8 206 98 206.2 96.5 205.5 95.7 204.2 95.4 202.5 96.1 199.5 100.9 185.2 102.9 180.5 104.1 178.2 105.2 176.7 106.2 175.8 107.5 175.2 108.8 175 110.2 175.2 112 176.2 113.1 178 113.3 180.2 112.6 183 110.6 187.8 103.3 202.8 101.8 204.9 100.8 205.6 99.8 206" fill="none" stroke="#000" stroke-width="0.45"/>
<path d="M99.2 205.3 98 205.2 96.9 204.5 96.3 203.2 96.3 201.8 97.1 198.8 102 184.2 104 179.8 105.9 177 107 176.1 108 175.7 109.2 175.6 110.2 175.9 111 176.3 111.8 177 112.6 178.8 112.6 180.8 111.8 183.5 110 187.5 102.8 202.4 101.2 204.3 100.2 205 99.2 205.3" fill="none" stroke="#000" stroke-width="0.45"/>
<path d="M100 204 98.8 204.2 97.8 203.7 97.3 202.8 97.2 201.2 98 198.4 102.5 184.8 104.3 180.5 106.1 177.8 107 177 108 176.5 109 176.4 110 176.6 111.3 177.5 111.9 179 111.9 180.8 111.2 183.2 109.8 186.5 102.5 201.2 101.2 203.1 100 204" fill="none" stroke="#000" stroke-width="0.45"/>
<path d="M99.8 202.3 99.1 202.2 98.7 201.8 98.8 199.8 102.9 186.2 104.1 183 105.4 180.2 106.8 178.4 108.2 177.4 109.7 177.5 110.6 178.2 111 179.5 110.9 181.2 110.2 183.5 102 199.7 100.8 201.6 99.8 202.3" fill="none" stroke="#000" stroke-width="0.45"/>
<path d="M103.2 193.3 102.9 193.2 102.8 192.5 103.5 188.5 104 186.2 105.2 182.7 106.2 180.7 107.2 179.4 108.2 178.7 109.2 178.8 109.8 179.3 110 180.2 109.8 181.8 109.2 183.4 106.5 188.6 104 192.4 103.2 193.3" fill="none" stroke="#000" stroke-width="0.45"/>
</g></g>
<ellipse cx="103.2" cy="195" rx="1.3" ry="5" transform="rotate(15 103.2 195)" fill="#f4f4f4"/>
<ellipse cx="106" cy="184" rx="0.9" ry="2" transform="rotate(15 106 184)" fill="#f4f4f4"/>
<g clip-path="url(#cp4)"><g filter="url(#soft)">
<path d="M212.2 215.3 211 215.4 209.5 214.9 208.2 214.1 207 212.8 206 211.2 205.6 210 205.6 208.5 205.9 206.8 211.2 193.8 215.4 185 217 180.5 219.3 175.5 220.5 174 222 173 223.8 172.5 225.8 172.7 227.6 173.8 228.9 175.5 229.3 177.5 228.9 179.8 226.9 185 225.1 188.8 223.9 192.2 221.5 198 216.7 207.5 215.1 212 213.8 214.1 212.2 215.3Z" fill="#6a6a6a" stroke="none"/>
<path d="M211.8 212.8 210.8 212.9 209.8 212.7 208.8 212.2 207.8 211.2 207.3 210.2 207 209.2 207 208.2 207.3 207 208.5 204.2 209.8 200.8 211.4 197.5 212.5 194.2 216.7 185.2 218.1 181.2 220.3 176.5 221.2 175.2 222.5 174.2 224 173.8 225.5 174.1 226.9 175 227.7 176.2 228 177.8 227.6 179.5 225.5 184.8 223.8 188.2 222.7 191.5 220.1 197.8 215.4 207 214.1 210.5 213 212 211.8 212.8Z" fill="#555" stroke="none"/>
<path d="M208.8 239 207 239.1 205.2 238.7 203.2 237.8 201.5 236.7 200.1 235.5 198.7 234 196.7 231.2 195.5 229.2 194.5 227 193.7 224.5 192.3 218 192.1 213 192.7 208.5 193.7 205.8 194.9 203.5 196 202.2 198.2 200.2 198.8 199.5 198.9 198.8 198.8 195.8 199.5 194 200.2 193.2 201.2 192.8 202.2 192.8 204 193.1 204.5 193 205 192.4 207.1 188.5 210.8 184 211.8 181.7 213.1 176.2 214.5 172.8 215.4 171.2 218 169.2 221 167.8 224 167.4 227 167.8 228.5 168.4 230.2 169.3 231.5 170.3 232.5 171.5 233.4 173 234.1 174.8 234.4 176.2 234.5 178 234.1 180.8 231.2 189.3 230 195 228.2 198.5 227.7 201.5 226.7 204 226.6 207.8 226.3 209 225.2 210.5 224.2 211.1 222 211.6 221.2 212.3 220.9 213 221 214 222.2 216.2 223.1 219.5 225.5 224.2 225.7 226 225.6 227.8 225 229.2 224.3 230.5 223.2 231.6 222 232.6 219 234.1 213.9 235.8 210.8 238.2 208.8 239 M177 229.3 175.8 229.5 174.8 229.2 173.5 228.2 172.5 226.8 171.6 225 171 223 170.6 220.5 170.4 218 170.8 213 172.2 207.5 172.4 206 172.3 204.2 171.4 199.8 171.2 197.2 171.1 194.2 171.4 191.5 172.2 188.5 173.2 186.2 174.5 184.8 175.2 184.4 176 184.2 176.8 184.4 177.5 184.8 178.8 186.2 179.8 188.5 180.6 191.5 180.9 194.2 180.8 197.2 180.6 199.8 179.7 204.2 179.6 206 179.8 207.5 181.1 212.8 181.6 217 181.3 221.2 180.4 225 178.9 227.8 178 228.7 177 229.3 M187.2 214.3 186.5 214.5 186 214.3 185.4 213.8 185.1 213 185.3 211.5 185.8 210.9 186.2 210.6 187 210.6 187.5 210.8 188.2 212 188.2 213.2 187.8 213.9 187.2 214.3" fill="none" stroke="#000" stroke-width="0.6"/>
<path d="M208.2 236.5 207 236.7 205.5 236.5 204 235.9 202.8 235.2 200.9 233 198.1 228.2 196.7 224.2 195.1 217.5 194.9 213.5 195.4 210 196.2 208 197.2 206.3 198.5 205 201.5 202.5 202.8 200.9 204.1 197.2 205.8 194.7 207.6 190.5 211.8 183.8 213.9 177 215.1 174.2 216.2 172.5 218.2 170.4 219.5 169.6 221 169 223.8 168.5 226.8 168.9 229.5 170.2 230.8 171.2 231.7 172.2 232.6 173.8 233.1 175.2 233.4 178.2 232.9 181 229.8 189.4 228.4 194.2 226.9 198.2 226.3 201.5 225.4 204.2 225 207.4 224.2 208.1 222.8 208.1 221.8 208.7 220.2 210.8 219.5 212.8 219.6 214.8 221 219.2 223.1 223.2 223.7 224.8 224 226.2 223.8 227.8 223.1 229.2 222 230.6 220.5 231.8 218.8 232.7 216.5 233.4 214 233.7 212.2 233.7 210.2 233.1 209.8 233.2 209.5 235.4 209 236.1 208.2 236.5 M176 205 175.5 204.8 174.8 203.8 173.6 201.2 172.8 198.5 172.6 195.5 172.9 192.5 173.6 190 174.8 188.2 175.2 187.9 176 187.7 176.8 187.9 177.2 188.2 178.4 190 179.1 192.5 179.4 195.5 179.1 198.5 178.4 201.2 177.2 203.8 176.5 204.7 176 205 M176.2 226.3 175.5 226.2 174.8 225.9 174 225.2 173.2 224 172.3 221.2 171.9 217.8 172.1 214.5 172.9 211.5 174.5 208.4 175.5 207.2 176 206.9 176.5 207.2 177.5 208.4 179 211.2 179.8 214.2 180.1 217.2 179.9 220.5 179 223.5 177.8 225.4 177 226 176.2 226.3" fill="none" stroke="#000" stroke-width="0.6"/>
<path d="M205.5 234 204.2 233.7 203 232.5 201.1 229.5 199.9 226.8 199.3 224.5 198 215.8 197.9 213.5 198.3 211.5 198.9 210.2 200.9 207.8 201.9 205 204.2 200.8 208.3 191.2 212 184.8 214.4 178 215.6 175.2 216.7 173.2 218.8 171.1 221.2 169.7 224 169.2 226.8 169.7 229.2 170.9 230.2 171.8 231.2 173 232.4 175.5 232.6 178.2 232.1 180.8 228.5 190 224.9 201.2 223.3 204 220 209.2 219.2 210.8 218.8 212.5 218.7 214.8 219.2 217.9 220 220.2 221.9 223.5 222.4 224.8 222.7 226.2 222.4 227.8 221.8 229 220.8 230.2 219.5 231.1 217.8 231.9 215.8 232.4 213.8 232.6 212.5 232.4 210 231.5 208.5 231.4 207.4 232 206.3 233.8 205.5 234 M176 200 175.2 199.6 174.7 198.8 174.3 197.2 174.1 195.5 174.3 193.8 174.8 192.3 175.2 191.5 176 191.2 176.8 191.5 177.2 192.3 177.7 193.8 177.9 195.5 177.7 197.2 177.3 198.8 176.8 199.6 176 200 M176.5 223.3 175.8 223.4 175.2 223.2 174.2 222.1 173.6 220.2 173.3 218 173.4 215.5 174 213.3 175 211.8 176 211.4 177 211.8 177.8 213 178.5 214.8 178.7 217 178.7 219 178.2 221 177.5 222.5 176.5 223.3" fill="none" stroke="#000" stroke-width="0.6"/>
<path d="M215.8 231.5 214.2 231.7 213 231.6 208.2 230.2 205 230.2 203.8 229.5 202.8 228.4 201.8 226.2 201.7 224 202.2 222.1 203.8 219.1 204 217.5 203.7 216 202 212.5 201.8 211.5 201.9 210.2 203.2 205 204.8 201.8 208.8 192 212.8 184.5 214.9 178.5 216.9 174.2 218.5 172.2 220.5 170.7 222.8 170 225.2 170 226.8 170.3 228.2 171 229.5 172 230.4 173 231.3 174.5 231.8 176 232 177.5 231.9 179 231.3 181 228 189.3 226.6 193.5 224.2 200 219.2 209.1 218.2 212.2 217.9 215 218.3 218.8 219 220.7 220.6 223.2 221.3 224.8 221.6 226.2 221.3 227.5 220.7 228.8 219.4 230 217.8 230.9 215.8 231.5 M176 219.3 175.4 218.8 175.2 217.5 175.4 216.2 176 215.7 176.6 216.2 176.8 217.5 176.6 218.8 176 219.3" fill="none" stroke="#000" stroke-width="0.6"/>
<path d="M215.2 230.8 213.8 230.8 212.5 230.6 208.4 229 207.1 228 205.3 225.8 205.1 224.5 206.4 221.5 206.4 219.5 205.8 217 203.2 211.8 203 210.2 203.2 208.2 203.9 205.2 208.9 193.2 213.2 184.7 215.2 179.2 217.4 174.5 219 172.5 220.8 171.2 223 170.5 225.2 170.5 226.8 170.9 228 171.5 229.2 172.5 230.1 173.5 230.8 174.8 231.2 176 231.4 177.2 231.3 178.8 230.6 181.2 227.2 189.5 225.9 193.5 223.9 198.8 218.8 208.6 217.5 212.5 217.1 215.5 217.3 219 218 221 219.7 223.5 220.3 224.8 220.6 226 220.4 227.2 219.7 228.5 218.5 229.6 217 230.3 215.2 230.8" fill="none" stroke="#000" stroke-width="0.6"/>
<path d="M214.8 230 212.8 229.9 210.8 229.1 209.2 228.1 208.4 226.8 207.8 224.8 208.5 221.5 208.3 220 207.3 217.2 205.2 214 204.1 211.8 203.7 210 203.9 207.5 204.6 205.2 209.6 193.2 213.8 184.8 215.6 179.5 217.9 174.8 219.2 172.9 221 171.7 223 171 225.2 171 226.5 171.3 227.8 172 228.8 172.8 229.7 173.8 230.7 176 230.9 177.2 230.8 178.8 230.2 181 226.8 189.2 225.4 193.2 223.4 198.2 218.2 208.4 216.7 213.2 216.2 216.5 216.4 219.5 217.1 221.5 219.3 224.8 219.6 226 219.4 227 218.8 228.2 217.8 229 216.2 229.7 214.8 230" fill="none" stroke="#000" stroke-width="0.6"/>
<path d="M214.5 229.3 213 229.2 211.5 228.6 210.4 227.8 209.7 226.8 209.3 224.8 209.9 221.8 209.8 220 208.8 217.8 206.1 214.2 204.7 211.8 204.2 209.8 204.4 207.5 205 205.5 209.9 193.5 214.2 184.8 215.9 180 218.2 175 219.5 173.2 221.2 172 223.2 171.4 225.2 171.4 227.5 172.3 228.5 173 229.3 174 230.3 176.2 230.5 177.5 230.3 179 229.8 180.8 226.2 189.2 225.1 192.8 222.8 198.2 218 207.8 217 210.5 215.5 215.8 215.3 218.5 216 221.2 216.5 222.2 218.3 224.5 218.6 225.5 218.7 226.2 218.3 227.2 217.4 228.2 216 229 214.5 229.3" fill="none" stroke="#000" stroke-width="0.6"/>
<path d="M215 228.3 213.8 228.3 212.5 228 211.5 227.3 211 226.5 210.7 225 211.6 221.5 211.4 219.5 210.5 218 207.2 214.7 205.5 212.2 204.8 210 204.9 207.5 205.4 205.8 210.3 193.8 214.5 185 216.3 180 218.6 175.2 219.9 173.5 221.5 172.3 223.2 171.8 225.2 171.8 227.2 172.6 228.2 173.4 229 174.2 229.9 176.2 230.1 177.5 230 178.8 229.4 180.8 226 188.8 224.7 192.5 222.4 198 217.4 208 214.2 216.8 214 218.8 214.6 221 215.3 222.5 217.2 224.8 217.5 225.8 217.4 226.5 217 227.2 216 228 215 228.3" fill="none" stroke="#000" stroke-width="0.6"/>
<path d="M212 216.8 210.5 216.4 208.8 215.3 207.5 214.2 206.4 212.8 205.5 211.2 205.2 210 205.1 208.5 205.5 206.8 210.7 193.8 215 184.8 216.6 180.2 218.9 175.5 220.2 173.8 221.8 172.6 223.8 172.1 225.8 172.3 227.8 173.4 228.6 174.2 229.2 175.2 229.7 177.5 229.4 179.8 227.2 185.2 225.5 188.9 224.3 192.2 221.9 198.2 217.1 207.8 215.2 213 213.5 215.8 212.8 216.5 212 216.8 M215 227 213.5 227 212.5 226.2 212.4 225 212.8 224.2 213.2 223.7 213.8 223.6 214.5 223.9 215.8 225.2 215.9 226.2 215 227" fill="none" stroke="#000" stroke-width="0.6"/>
<path d="M212.2 215.3 211 215.4 209.5 214.9 208.2 214.1 207 212.8 206 211.2 205.6 210 205.6 208.5 205.9 206.8 211.2 193.8 215.4 185 217 180.5 219.3 175.5 220.5 174 222 173 223.8 172.5 225.8 172.7 227.6 173.8 228.9 175.5 229.3 177.5 228.9 179.8 226.9 185 225.1 188.8 223.9 192.2 221.5 198 216.7 207.5 215.1 212 213.8 214.1 212.2 215.3" fill="none" stroke="#000" stroke-width="0.45"/>
<path d="M211.8 214.3 210.5 214.3 209.2 213.9 208 212.9 207 211.8 206.5 210.8 206.1 209.5 206.1 208.2 206.5 206.8 209 200.5 210.5 197.2 211.7 194 215.8 185.2 217.4 180.8 219.6 176 220.8 174.5 222.2 173.4 224 173 225.8 173.3 227.4 174.2 228.4 175.8 228.8 177.8 228.4 179.8 226.3 185 224.6 188.5 223.4 192 220.9 198 216.3 207.2 214.7 211.2 213.4 213.2 212.5 213.9 211.8 214.3" fill="none" stroke="#000" stroke-width="0.45"/>
<path d="M211.8 213.3 210.8 213.4 209.5 213.1 208.5 212.5 207.6 211.5 207 210.5 206.7 209.5 206.7 208.2 207 207 209.4 200.8 211 197.5 212.2 194.2 216.4 185.2 217.8 181 220.1 176.2 221.2 174.8 222.5 173.9 224 173.5 225.5 173.7 227 174.6 227.9 176 228.3 177.8 227.9 179.8 225.9 184.8 224.1 188.2 222.9 191.8 220.5 197.8 215.8 207 214.3 210.8 213.2 212.3 211.8 213.3" fill="none" stroke="#000" stroke-width="0.45"/>
<path d="M211.2 212.5 210.5 212.5 209.5 212.3 208.5 211.6 207.8 210.8 207.3 209 207.6 207 208.8 204.2 210 201 211.6 197.8 212.8 194.2 216.9 185.5 218.3 181.2 220.5 176.7 221.5 175.3 222.8 174.4 224 174.1 225.5 174.3 226.8 175.2 227.5 176.5 227.7 178 227.3 179.8 225.4 184.5 223.6 188 222.4 191.5 219.9 197.5 215.2 206.8 213.9 210.2 212.8 211.8 211.2 212.5" fill="none" stroke="#000" stroke-width="0.45"/>
<path d="M211.5 211.6 210 211.6 209.2 211.2 208.5 210.5 207.9 209 208.2 207.2 209.4 204.5 210.5 201.2 212.2 198 213.3 194.5 214.7 191.8 216 188.5 217.5 185.8 218.8 181.8 221 177 221.9 175.8 222.9 175 224 174.7 225.2 174.9 226.2 175.6 226.9 176.8 227.1 178 226.7 179.5 224.8 184.5 223 187.8 221.9 191.2 220.5 194.2 219.2 197.6 217.4 200.8 216.1 203.8 214.6 206.5 213.2 210 212.5 211 211.5 211.6" fill="none" stroke="#000" stroke-width="0.45"/>
<path d="M211.2 210.6 210.2 210.6 209.5 210.2 209 209.5 208.8 208.5 209 207.5 210.3 204.8 211.2 201.8 212.9 198.5 214 194.8 215.5 192 216.7 188.8 218.3 186 219.4 182 221.6 177.5 222.2 176.5 223 175.9 224 175.5 225 175.7 226 176.6 226.3 178 226 179.2 224.4 183.5 222.2 187.5 221.2 190.8 219.7 194 218.5 197.4 216.7 200.2 215.4 203.5 213.7 206.2 212.5 209.5 212 210.1 211.2 210.6" fill="none" stroke="#000" stroke-width="0.45"/>
<path d="M212.2 205.5 212 205.5 211.8 204.5 212 202.4 212.5 201.3 214 199.2 214.6 195.5 216.3 192.5 217.4 189.2 219.5 186.2 219.9 183.5 220.2 182.1 222.8 177.4 223.5 176.7 224.5 176.7 225 177 225.3 177.5 225.1 179 223.3 184 221.1 187 220.5 190.2 218.8 193.5 218 196.5 217.2 197.8 215.5 200 214.2 203.5 213.5 204.5 212.2 205.5 M211 209 210.6 209 210.3 208.8 210.2 208 210.8 207.1 211.5 206.4 211.8 206.6 211.8 207.8 211.5 208.5 211 209" fill="none" stroke="#000" stroke-width="0.45"/>
</g></g>
<ellipse cx="219.3" cy="194.3" rx="1.5" ry="3.2" transform="rotate(20 219.3 194.3)" fill="#f4f4f4"/>
<ellipse cx="223.8" cy="179.7" rx="0.9" ry="1.5" transform="rotate(0 223.8 179.7)" fill="#f4f4f4"/>
<g clip-path="url(#cp5)" fill="#c8c8c8"><ellipse cx="78" cy="364" rx="13" ry="3.4"/><ellipse cx="120.5" cy="364" rx="3.2" ry="2.8"/></g>
<g clip-path="url(#cp5)"><g filter="url(#soft)">
<path d="M65 326.3 60.5 326.3 57.8 325.6 56.5 324.8 55.1 323.6 54.1 322.3 53.3 320.8 52.9 319.3 52.7 317.6 52.9 316.1 53.5 314.6 54.2 313.3 55.4 312.1 56.7 311.1 58.2 310.2 62.2 308.7 67 308.1 72.8 308 78.8 308.4 83.5 309 87 310 90.6 311.8 92.5 313.1 93.2 313.8 93.3 314.3 93.2 314.8 92.4 315.8 87.8 320.1 85 321.8 79.8 323.6 74 325.2 69.5 325.9 65 326.3Z" fill="#8a8a8a" stroke="none"/>
<path d="M67 322.8 64 322.9 61.8 322.7 60 322.1 58.6 321.1 57.6 319.6 57.2 317.8 57.6 316.1 58.6 314.6 60.7 313.1 63.5 312 67.2 311.4 71.2 311.2 75.8 311.4 80.9 312.3 83.2 313.3 84 314.1 84.5 314.8 84.6 315.8 83.9 317.1 82.5 318.2 80.2 319.4 76.7 320.8 73.2 321.9 70.2 322.5 67 322.8Z" fill="#6a6a6a" stroke="none"/>
<path d="M50 302.5 53 300.9 56 299.9 59.5 299.1 64 298.7 69.2 298.6 74.2 298.8 80.8 299.5 86.8 300.4 93 302.1 97.2 302.6 99.8 303.7 109.9 311.3 111.3 313.1 111.7 314.8 111.4 316.6 110.2 318.1 108.8 319.2 103.6 322.6 101.7 324.1 100.3 325.6 99.5 327.3 99 330.8 98.5 332.6 97.7 334.3 96.5 336 95.2 337.3 93.5 338.5 91.8 339.4 89.5 340.3 87.2 340.8 85 341 82.5 341 80.2 340.7 77.2 340 71.8 337.8 69.5 337.2 66.8 336.8 60 336.5 56.2 335.9 52.8 334.7 50 333.3 M80.8 369.1 72.2 368.9 68.2 368.5 65 367.9 62 367.1 60 366.2 58.8 365.1 58.6 364.1 59.2 363.1 60.3 362.3 62 361.6 64.2 360.9 70 359.9 77 359.5 83.8 359.8 90 360.7 94.3 362.1 95.5 362.8 96.4 363.8 96.4 364.8 95.8 365.6 94.5 366.4 92.8 367.2 87.5 368.4 80.8 369.1 M120.8 367.8 119.5 367.7 118.4 367.1 117.6 366.1 117.2 364.6 117.3 363.3 118 362 119 361.2 120.2 360.8 121.5 361 122.5 361.6 123.3 362.6 123.8 364.1 123.6 365.3 123 366.6 122 367.4 120.8 367.8 M50 305.2 53.2 303.2 56.8 301.9 61.8 301 67 300.6 72.8 300.6 78.5 301.1 86 302.1 92.2 303.7 96.5 303.7 97.8 304.1 99 304.9 101.9 307.8 107.3 312.1 108.5 313.6 108.8 314.8 108.4 316.3 107.3 317.6 99 323.2 96.5 324.7 93.1 325.3 92 326 91.7 326.6 91.8 327.3 93.6 329.1 94.1 329.8 94.3 330.8 94 332.1 93 333.7 91.5 335.2 89.7 336.3 87.5 337.1 84.8 337.6 82 337.5 79.2 337 74 335.2 71.5 334.6 68.8 334.4 61.8 334.4 58.2 334.1 55.8 333.5 53.8 332.7 51.8 331.7 50 330.5 M82 367.1 76.2 367.3 71 366.8 67.2 365.8 66.1 365.1 65.7 364.3 65.9 363.8 66.5 363.3 69 362.3 72.8 361.6 77 361.3 81.2 361.5 85.2 362.1 88 363 88.9 363.6 89.2 364.1 89.2 364.6 88.9 365.1 87.7 365.8 85.3 366.6 82 367.1 M50 307.4 53 305.2 56.5 303.7 61 302.7 66 302.2 71.2 302.1 76.5 302.4 85.2 303.4 92 305 96 304.7 97 305 97.9 305.6 100.2 308.3 104.1 311.8 105.5 313.6 105.9 314.8 105.6 315.8 104.7 317.1 100.5 320.3 97 322.4 92.3 324.1 90.8 325.1 90 326.1 89.7 327.1 90 330.1 89.7 331.3 89 332.2 88 333 85.5 334.1 83.8 334.3 81.8 334.3 75.5 333 72.5 332.6 62.8 332.8 58.8 332.5 56.2 331.9 54 331 52 329.9 50 328.3 M50 309.4 52 307.5 54.5 305.9 57 304.9 60 304.2 64.2 303.5 68.5 303.2 73 303.2 78.5 303.7 85.2 304.5 92.2 306.2 93.5 306.2 95.2 305.9 96.3 306.1 97 306.6 98.7 308.8 102.2 312.1 103 313.3 103.4 314.6 103.2 315.6 102.7 316.6 100.5 318.7 97 321 92.5 322.8 90.8 323.8 88.9 325.6 87 328.6 86.2 329.4 85 330.3 83.2 330.9 80.5 331.2 72.5 331.1 63.8 331.5 59.5 331.4 56.8 330.8 54.2 329.7 52 328.3 50 326.4 M50 311.3 51.5 309.5 53.5 307.8 55.8 306.6 58.2 305.7 62 304.8 65.8 304.4 70.2 304.2 74.8 304.3 84.8 305.4 87.5 306 92.2 307.4 95.2 307.9 96.2 308.5 99.9 311.6 101 313.1 101.4 314.6 101.2 315.6 100.5 316.8 98.2 318.9 96 320.2 91 322.5 89.2 323.8 86.2 326.5 84.8 327.5 82.8 328.4 80.5 329 67.2 330.3 62.2 330.5 59.2 330.3 56.8 329.6 54.2 328.4 51.8 326.6 50 324.5 M50 313.5 51.1 311.6 52.8 309.7 54.8 308.3 57 307.2 61 306 63 305.6 67.5 305.1 72 305.1 83 306 86.2 306.6 89.2 307.4 94.8 309.4 97 310.6 98.2 311.6 99.1 312.6 99.6 313.6 99.7 314.6 99.6 315.3 99.1 316.3 97.7 317.8 95.7 319.1 91.2 321.3 86 325.1 84 326.2 81.8 327 76.5 328.2 66.8 329.4 61.5 329.5 58.5 329.2 56 328.3 53.5 326.7 51.4 324.6 50 322.3 M67.5 328.3 61.5 328.5 58 328 56.2 327.3 54.7 326.3 53 324.8 51.9 323.3 50.9 321.6 50.4 319.8 50.2 317.8 50.4 315.8 51 314.1 51.9 312.3 53.2 310.8 54.8 309.5 57.8 308 61.2 306.9 63 306.5 69.5 306 77 306.3 83.8 307 88.2 308.1 95.3 311.1 96.8 312.1 97.8 313.3 98 314.3 97.9 315.1 97.5 315.9 96.7 316.8 95 318 91.2 320.1 87.2 323.1 85.5 324.1 81.5 325.7 77.8 326.7 73.8 327.5 67.5 328.3 M66 327.6 60.8 327.7 57.8 327 56.2 326.3 54.6 325.1 53.2 323.6 52.2 322.1 51.5 320.3 51.2 318.6 51.2 316.8 51.6 315.1 52.3 313.6 53.3 312.1 54.6 310.8 56.2 309.7 61.5 307.6 65.5 307 71.2 306.7 78.8 307.2 84 307.8 88 308.9 94.5 311.8 95.6 312.6 96.3 313.6 96.5 314.3 96.3 315.1 95.3 316.3 91.2 319 87 322.3 85.5 323.1 80.5 324.9 75.5 326.2 70 327.2 66 327.6 M62.8 326.8 59.2 326.5 57.8 326 56.5 325.3 55 324.1 53.9 322.8 53 321.3 52.5 319.8 52.2 318.3 52.3 316.8 52.6 315.3 53.3 313.8 54.2 312.5 55.5 311.3 58.5 309.7 62.5 308.3 67.8 307.6 74 307.6 80.8 308.2 84.8 308.9 88 309.9 93.2 312.6 94 313.2 94.4 313.8 94.4 314.8 93.6 315.8 87.2 321 84.8 322.4 79.5 324.2 73.5 325.7 68.2 326.5 62.8 326.8 M66.8 325.8 62 326 59.2 325.6 56.9 324.6 54.9 322.6 54.1 321.3 53.5 319.8 53.2 318.3 53.3 316.8 53.7 315.3 54.3 314.1 55.2 312.8 56.3 311.8 59 310.3 63 309 68.5 308.3 74.8 308.4 81.5 309.1 85.5 309.9 89.1 311.6 90.9 312.8 91.8 313.8 92 314.3 91.8 315.1 90 317.3 87.5 319.7 85.1 321.3 80 323.1 74.5 324.7 71 325.3 66.8 325.8 M65.2 325.1 61.2 325.1 58.8 324.5 57.6 323.8 56.5 322.9 55.6 321.8 54.9 320.6 54.4 319.3 54.3 317.8 54.5 316.3 54.9 315.1 55.7 313.8 56.6 312.8 59.2 311.2 62.5 310 66.5 309.3 70.2 309.1 76 309.3 81.5 309.9 84.8 310.7 87.8 312.1 88.8 312.9 89.5 313.8 89.7 314.6 89.6 315.3 88.7 317.1 86.8 319 84.5 320.5 79.5 322.3 73.8 324 70 324.7 65.2 325.1 M64.5 324.3 61 324.1 58.8 323.4 56.8 321.8 55.6 319.6 55.3 318.3 55.3 317.1 56.2 314.8 57.8 313.1 60.5 311.5 63.2 310.6 67.5 310 71.2 309.8 76.2 310.1 81 310.7 83.8 311.4 86.5 312.8 87.4 313.6 87.8 314.3 87.9 315.1 87.8 315.8 87 317.3 85.2 318.9 83 320.1 78.8 321.7 73.2 323.3 69.2 324 64.5 324.3 M67.2 323.3 64 323.4 61.5 323.2 59.5 322.6 58.1 321.6 56.9 319.8 56.5 317.8 56.8 316.1 57.9 314.3 60 312.8 63 311.6 67 310.9 71.2 310.7 76 310.9 81.5 311.8 84.2 313 85.2 313.8 85.7 314.6 85.9 315.8 85.2 317.1 84 318.2 82 319.3 78.4 320.8 74 322.2 71 322.9 67.2 323.3 M65.5 322.6 62.5 322.4 60.5 321.9 58.9 320.8 57.9 319.3 57.7 317.6 58.2 315.7 59.5 314.3 61.8 313 64.2 312.2 67.5 311.7 70.5 311.5 74.5 311.6 78.5 312.2 81.1 312.8 82.8 313.7 83.7 314.8 83.7 316.1 82.9 317.3 81 318.5 78.4 319.8 75 321 72.2 321.8 69 322.3 65.5 322.6 M68 321.6 63.2 321.6 61.8 321.2 60.5 320.6 59.4 319.6 58.9 318.3 59 317.1 59.6 315.8 61 314.5 63.2 313.4 66 312.8 69.5 312.4 73.8 312.5 77.2 313 80.2 313.8 81.5 314.8 81.7 315.8 81.2 316.6 80.1 317.6 78 318.8 73.2 320.6 70.8 321.2 68 321.6 M67 320.6 63.5 320.4 61.5 319.6 60.8 318.8 60.5 318.1 60.6 317.1 61 316.3 62.2 315.2 64.2 314.3 66.8 313.7 69.8 313.4 72.8 313.5 75 313.8 77.2 314.6 78 315.1 78.4 315.6 78.3 316.3 77.7 317.1 76.4 318.1 74.8 318.9 71.1 320.1 67 320.6" fill="none" stroke="#000" stroke-width="0.55"/>
</g></g>
<ellipse cx="79.7" cy="318" rx="1.4" ry="1.2" transform="rotate(0 79.7 318)" fill="#f4f4f4"/>
<rect x="58" y="316.4" width="10" height="5" fill="#eee"/>
<g clip-path="url(#cp6)" fill="#c8c8c8"><ellipse cx="198" cy="364" rx="11" ry="3.4"/><ellipse cx="242" cy="364" rx="4" ry="2.8"/></g>
<g clip-path="url(#cp6)"><g filter="url(#soft)">
<path d="M184.5 326.3 179.8 326.2 176.2 325.3 174.8 324.5 173.2 323.4 172.2 322.3 171.4 320.8 170.9 319.3 170.8 317.6 171.1 315.8 171.7 314.3 172.5 313.1 173.8 311.7 177.2 309.5 179.8 308.6 186.8 307.8 191 307.9 198.5 308.6 202.5 309.3 205.5 310.2 208.4 311.8 209.9 313.3 210.1 314.1 209.9 315.1 208.5 317.1 205.6 319.6 202 321.8 198.2 323.4 192.5 325.2 189 325.9 184.5 326.3Z" fill="#8a8a8a" stroke="none"/>
<path d="M187.8 322.6 184.8 322.7 181.8 322.4 179.2 321.8 177.5 321 176.2 319.8 175.6 318.3 175.7 316.8 176.5 315.1 178 313.5 180.2 312.3 183.8 311.4 187.5 311 192.2 311.3 198.1 312.3 201 313.1 201.9 313.6 202.6 314.3 202.8 315.3 202.5 316.3 201.6 317.3 200.1 318.3 195.8 320.3 190.2 322.1 187.8 322.6Z" fill="#6a6a6a" stroke="none"/>
<path d="M167 303.2 169.5 301.7 171.8 300.6 174 299.9 177 299.2 180 298.9 184.2 298.6 192.8 298.8 204.5 300.4 213.2 302.6 219 303.8 221.2 304 225.8 303.9 227.8 304.1 229.2 304.7 230.5 305.6 231.4 306.8 231.6 308.1 231.3 309.6 230.5 311.1 226.8 314.9 223.3 319.3 221.2 321.3 216.7 324.8 215.2 326.4 214.1 328.3 212.2 333.3 210.6 335.8 208 338.1 204.5 339.9 202 340.6 199.2 341 196.5 341 193.8 340.6 191 340 184.4 337.8 176.5 336.4 173.5 335.7 170 334.4 167 332.6 M200.2 369.1 196.8 369.1 193.2 368.9 190 368.4 187.2 367.8 185 366.9 183.5 366 182.6 364.8 182.6 363.8 183.3 362.8 184.3 362.1 187.8 360.7 192.5 359.8 198 359.5 203.5 359.8 208.2 360.7 211.6 362.1 212.6 362.8 213.3 363.8 213.3 364.8 212.9 365.6 211.8 366.5 210.2 367.2 205.8 368.5 200.2 369.1 M242 367.8 240.5 367.6 239.1 366.8 238.2 365.6 237.9 364.3 238.2 363.1 239 361.9 240.2 361.1 241.8 360.8 243.2 361 244.7 361.8 245.6 363.1 245.9 364.3 245.6 365.6 244.8 366.8 243.5 367.5 242 367.8 M167 306.1 169 304.6 171.2 303.3 173.8 302.3 176.5 301.5 179.5 301 183 300.7 191 300.7 197 301.2 204 302.1 208.2 303.1 212.5 304.4 220.5 306.2 224.8 306.9 226.5 307.7 227 308.3 227.1 309.1 226.5 310.8 222.9 316.6 221.5 318.4 219.2 320.4 214.4 323.8 212.2 325.6 210.8 327.4 208.2 332.1 207 333.8 204.8 335.7 202.2 336.9 199 337.6 195.8 337.6 193.2 337.1 186.2 335.3 176.2 334.1 173.8 333.5 171.2 332.5 169 331.2 167 329.7 M201.2 367.1 196.5 367.2 192.2 366.7 190.5 366.1 189.3 365.6 188.6 364.8 188.5 364.1 189.4 363.1 191.5 362.1 194.2 361.6 197.5 361.4 201 361.5 204 362 206.1 362.8 207.3 363.8 207.4 364.3 207.3 364.8 206.1 365.8 204.1 366.6 201.2 367.1 M167 308.5 168.8 306.8 171 305.3 173.2 304.2 176.2 303.2 179 302.6 183 302.2 191.2 302.2 197.8 302.7 203.5 303.5 208 304.5 212 305.9 216.2 306.6 219.2 307.7 221.3 308.8 222.3 309.8 222.7 311.3 222.5 313.1 221.7 315.1 220.7 316.8 219.5 318.2 217 320.2 210.1 324.6 209.1 325.6 204 331.8 202.1 333.3 200 334.2 197.8 334.6 195.5 334.6 187.8 333.4 179.8 332.9 176.5 332.5 173.8 331.7 171.2 330.6 169 329.1 167 327.3 M167 310.7 168.8 308.6 170.8 307 173.2 305.6 176.2 304.4 178.8 303.8 182.5 303.4 190.2 303.2 196.8 303.7 203.5 304.6 208 305.6 211.8 307.1 215.8 307.8 217.8 308.6 219.4 309.8 220.3 311.1 220.6 312.6 220.4 314.1 219.8 315.6 218.8 317.1 217.5 318.3 214 320.7 208.8 323.7 204.2 328.2 202.5 329.6 200.2 330.9 198 331.7 196 332 193.8 332 180.8 331.7 176.8 331.2 173.5 330.2 171 328.9 168.8 327.1 167 325.1 M167 313.1 168.2 311.1 170 309.1 172 307.5 174.5 306.2 177.2 305.2 179 304.8 184 304.3 188 304.2 192.8 304.3 199.8 305 203.8 305.6 207 306.4 211.5 308.1 214.8 308.6 216.4 309.3 217.5 310.1 218.4 311.1 218.9 312.1 219 313.1 218.8 314.3 218.1 315.8 217.1 317.1 215.6 318.3 212.5 320.3 208 322.9 201.8 328.2 200 329 196 329.9 192.2 330.3 182.5 330.6 179 330.4 176.2 329.9 173.2 328.8 170.5 327.1 168.5 325.1 167 322.6 M183.5 329.6 180.5 329.5 178 329.3 175.8 328.7 173.8 327.9 171.8 326.8 170.2 325.4 168.9 323.8 167.9 322.1 167.3 320.1 167.1 318.1 167.3 315.8 167.9 313.8 168.8 312.1 170.2 310.3 171.8 308.9 173.8 307.7 178.2 305.9 183.5 305.2 189.8 305.1 197.2 305.6 203 306.3 207.2 307.4 211.2 309 215 310 216.2 310.8 217.1 311.8 217.4 313.1 217.3 314.3 216.7 315.6 215.6 316.8 212.8 319 207.2 322.2 201 327.1 199.5 327.6 193.2 328.9 183.5 329.6 M182.5 328.6 180 328.5 177.8 328.2 175.8 327.6 173.8 326.7 172 325.6 170.7 324.3 169.6 322.8 168.8 321.1 168.3 319.3 168.2 317.3 168.5 315.6 169.1 313.8 170.2 312.1 171.5 310.6 173.1 309.3 175 308.2 178.8 306.7 185 306 190.5 306 198.5 306.6 203 307.3 207 308.3 213.8 310.9 214.7 311.6 215.3 312.3 215.6 313.3 215.4 314.6 214.8 315.6 213.8 316.7 211.3 318.6 200.2 325.7 198.8 326.2 192.5 327.7 188 328.2 182.5 328.6 M185.5 327.6 180.5 327.6 178.5 327.4 176.5 326.9 174.8 326.2 173.2 325.3 171.8 324.1 170.8 322.8 169.9 321.3 169.4 319.6 169.2 317.8 169.4 316.1 170 314.3 171 312.6 172.2 311.1 173.8 309.9 177.2 308.1 179.2 307.4 185.8 306.7 191.5 306.8 200.2 307.6 204.5 308.4 207.5 309.4 211.6 311.3 212.9 312.1 213.5 312.8 213.7 313.6 213.6 314.6 213 315.6 212 316.6 209.8 318.3 204.5 321.9 201.5 323.7 198.8 324.9 193.8 326.4 190.2 327.1 185.5 327.6 M186.8 326.6 181.8 326.8 178.2 326.4 175 325.2 173.6 324.3 172.5 323.3 171.5 322.1 170.8 320.6 170.4 319.1 170.3 317.3 170.6 315.8 171.2 314.3 172.1 312.8 173.3 311.6 176 309.7 179 308.4 185 307.5 190 307.5 199.5 308.4 203.8 309.2 206.2 310 208.4 311.1 210.3 312.3 211.1 313.3 211.3 314.1 211.1 314.8 209.6 316.8 206.6 319.3 202.5 322 198.8 323.8 194.2 325.2 190.8 326 186.8 326.6 M186 325.8 181.5 325.9 178 325.4 175.2 324.3 173 322.4 172.2 321.3 171.6 319.8 171.3 318.6 171.3 317.1 171.7 315.6 172.2 314.3 173.1 313.1 174.4 311.8 177 310.1 179.2 309.2 184.8 308.3 189.8 308.2 198.8 309 203 309.8 205 310.5 206.6 311.3 208 312.3 208.8 313.3 209 314.1 209 314.8 207.9 316.8 205.5 319.1 202.2 321.2 198.2 323 192.5 324.7 189.5 325.4 186 325.8 M183.8 325.1 179.8 324.8 176.8 323.9 175.5 323.3 174.3 322.3 173.5 321.3 172.8 320.1 172.5 318.8 172.4 317.6 172.7 316.1 173.2 314.8 174 313.6 175 312.6 178 310.6 180 309.9 185 309.1 188.8 308.9 192.5 309.2 199.2 310 202.8 310.7 205.5 312 206.3 312.8 206.8 313.6 207 314.3 206.9 315.3 205.8 317.3 204 319.1 201.2 320.7 197.8 322.2 190.8 324.2 187.5 324.8 183.8 325.1 M187 324.1 183.2 324.2 179.8 323.8 177.5 323.2 175.5 322 174.6 321.1 174 320.1 173.5 318.1 173.9 315.8 175.1 313.8 177.2 312.1 179.5 310.9 183.8 310 188 309.7 193.2 310 200.8 311.1 203.5 312.1 204.5 312.8 205.1 313.6 205.4 315.1 204.9 316.6 203.7 318.1 201.9 319.3 199.5 320.5 197 321.5 190.5 323.5 187 324.1 M188 323.1 184.8 323.3 181.2 323 178.8 322.4 176.9 321.6 175.5 320.2 174.8 318.6 174.9 316.8 175.8 314.8 177.5 313.1 179.8 311.9 183.5 310.9 187.5 310.5 192.7 310.8 199.8 312 202.2 312.8 203 313.3 203.6 314.1 203.8 315.1 203.5 316.3 202.5 317.6 201 318.6 196.5 320.7 190.5 322.5 188 323.1 M187 322.3 184.2 322.3 181.2 321.9 179.2 321.4 177.7 320.6 176.5 319.3 176.1 318.1 176.3 316.6 177.1 315.1 178.7 313.6 180.8 312.5 184.2 311.7 187.8 311.4 192 311.6 196.8 312.4 200.5 313.4 201.5 314 201.9 314.6 202.1 315.6 201.5 316.6 200.4 317.6 198.2 318.8 195.5 320 191 321.5 187 322.3 M188 321.3 186 321.4 183.8 321.2 181 320.7 179.4 320.1 178.4 319.3 177.8 318.3 177.6 317.3 178 316.1 179.2 314.6 181 313.6 184.2 312.6 187 312.3 190.5 312.3 194 312.9 197.6 314.1 199.1 315.1 199.3 315.8 198.8 316.6 196.1 318.6 192 320.3 188 321.3 M187 320.3 184 320.1 181 319.1 180.2 318.5 179.8 317.8 179.7 317.1 179.9 316.3 180.8 315.3 182.2 314.6 185 313.6 187.2 313.3 190 313.4 192.5 313.9 194.3 314.6 195.4 315.6 195.5 316.3 195.2 317.1 193.5 318.4 190 319.8 187 320.3" fill="none" stroke="#000" stroke-width="0.55"/>
</g></g>
<ellipse cx="197.3" cy="316.7" rx="1.6" ry="1.3" transform="rotate(0 197.3 316.7)" fill="#f4f4f4"/>
<ellipse cx="56.4" cy="106.6" rx="1.3" ry="1.6" fill="none" stroke="#555" stroke-width="0.6"/>
<path d="M186.6 104.3h2.2" stroke="#777" stroke-width="1"/>
<text x="98.5" y="51.6" font-size="5.2" fill="#555" text-anchor="middle">81.6</text>
<text x="214" y="51.6" font-size="5.2" fill="#555" text-anchor="middle">58.3</text>
<text x="104.8" y="159" font-size="5.6" fill="#777" text-anchor="middle">GMP</text>
<text x="104.8" y="165" font-size="5.2" fill="#444" text-anchor="middle">30.5</text>
<text x="78.6" y="189" font-size="5.6" fill="#777" text-anchor="middle">MEP</text>
<text x="78.6" y="195" font-size="5.2" fill="#444" text-anchor="middle">18.8</text>
<text x="129.9" y="197.6" font-size="5.6" fill="#777" text-anchor="middle">CMP</text>
<text x="129.9" y="203.7" font-size="5.2" fill="#444" text-anchor="middle">30.7</text>
<text x="221.6" y="165.3" font-size="5.2" fill="#555" text-anchor="middle">22.9</text>
<text x="196.3" y="194" font-size="5.2" fill="#555" text-anchor="middle">22.9</text>
<text x="244.7" y="203.1" font-size="5.2" fill="#555" text-anchor="middle">33.8</text>
<text x="85.2" y="298.8" font-size="5.2" fill="#555" text-anchor="middle">69.6</text>
<text x="202.4" y="298.1" font-size="5.2" fill="#555" text-anchor="middle">69.6</text>
<text x="110.2" y="300.4" font-size="6" fill="#888" text-anchor="middle">CLP</text>
<rect x="95.3" y="101.7" width="10" height="5.6" fill="#fff"/>
<text x="100.3" y="106.3" font-size="5.2" fill="#333" text-anchor="middle">33.8</text>
<rect x="210" y="102.5" width="10" height="5.6" fill="#fff"/>
<text x="215" y="107.1" font-size="5.2" fill="#333" text-anchor="middle">33.2</text>
<text x="63" y="320.6" font-size="5" fill="#777" text-anchor="middle">20.6</text>
<path d="M94.3 347.5h0.7 M69.6 342.9h0.7 M85.8 320.3h0.7 M137.6 327.8h0.7 M91 338.1h0.7 M119 324.4h0.7 M106.1 307.5h0.7 M83.2 317.1h0.7 M60 297.8h0.7 M87.9 319.2h0.7 M93.7 301h0.7 M90.1 329.3h0.7 M110 309.8h0.7 M82.4 288.7h0.7 M79.9 285.5h0.7 M57.9 344.8h0.7 M99.9 319.4h0.7 M103 334.5h0.7 M117.1 320.9h0.7 M77.8 314.1h0.7 M68.3 324.2h0.7 M73.1 344.2h0.7 M69.1 287.3h0.7 M137.7 281.6h0.7 M85.2 315.5h0.7 M131.7 289.3h0.7 M117.7 311.8h0.7 M88.3 312.9h0.7 M107.4 304.5h0.7 M90.1 331.4h0.7 M136.2 281.7h0.7 M128.6 342.1h0.7 M80.4 330.5h0.7 M80.8 354.6h0.7 M97 321.1h0.7 M86.5 321.4h0.7 M87.8 309.2h0.7 M141.4 290.6h0.7 M88.5 331.7h0.7 M87.1 322.3h0.7 M100 342.4h0.7 M81.2 318.3h0.7 M138.6 334.5h0.7 M110.6 314.4h0.7 M63.8 330.4h0.7 M72 306h0.7 M60.9 315.9h0.7 M118.6 317.2h0.7 M57.2 337h0.7 M93.6 340.2h0.7 M120.8 322h0.7 M88.5 324.2h0.7 M64.8 337h0.7 M124.9 328.1h0.7 M86.3 320.3h0.7 M73.3 310.5h0.7 M82.4 309.8h0.7 M81.5 296.6h0.7 M100.4 325.9h0.7 M64.3 283.6h0.7 M91.8 344.9h0.7 M74.4 316.3h0.7 M78.4 336.8h0.7 M70 342.7h0.7 M84.7 341.6h0.7 M92.8 320.8h0.7 M56.5 312.6h0.7 M85.7 336.9h0.7 M97.9 312.5h0.7 M101.8 342.8h0.7 M88.4 317.1h0.7 M82.5 339.6h0.7 M104.9 308.3h0.7 M101 316.4h0.7 M74 347.3h0.7 M111.7 312h0.7 M93.9 334h0.7 M76.7 322.8h0.7 M108 292.8h0.7 M99.9 338.3h0.7 M104.1 300.9h0.7 M99.6 309.5h0.7 M105.7 335.9h0.7 M97.2 311.2h0.7 M77.8 340.4h0.7 M70.4 333.9h0.7 M104.3 320h0.7 M149.5 326.3h0.7 M143.5 288.7h0.7 M107.3 319.4h0.7 M90.7 290.7h0.7 M76.9 306.4h0.7 M86.7 340.9h0.7 M93.3 331.7h0.7 M75.2 317.2h0.7 M94.7 319.9h0.7 M122.4 309.2h0.7 M137.4 307.3h0.7 M117.4 311.1h0.7 M131.6 327.5h0.7 M101.6 338.4h0.7 M76.8 306.2h0.7 M75.3 314.3h0.7 M91.3 360.8h0.7 M82.5 334.6h0.7 M112.2 353.1h0.7 M130.3 309.6h0.7 M93.3 323h0.7 M59 299.1h0.7 M110.2 329.4h0.7 M88.6 346.9h0.7 M68 334.5h0.7 M92.2 323.9h0.7 M103.8 328.2h0.7 M98.4 329.8h0.7 M138.5 319.4h0.7 M116.3 336h0.7 M83.6 339.3h0.7 M71.4 345.9h0.7 M72.6 316.2h0.7 M99.8 340h0.7 M113.8 341.1h0.7 M87 307.8h0.7 M105.2 330.4h0.7 M69.1 342.5h0.7 M96.8 307.8h0.7 M102.6 301.1h0.7 M70.9 332.2h0.7 M59.6 338.3h0.7 M74.5 328.3h0.7 M114.7 333.2h0.7 M113.4 318.2h0.7 M126 305.9h0.7 M90 345h0.7 M123.4 348h0.7 M65.7 293h0.7 M101.4 299.2h0.7 M88.8 301.9h0.7 M117.5 339.5h0.7 M105.4 325.3h0.7 M93.1 319.6h0.7 M101.2 329.5h0.7 M103 317.3h0.7 M137.6 330.1h0.7 M125.5 349h0.7 M70.9 294.6h0.7 M122.2 318h0.7 M94 320.3h0.7 M95.1 303.6h0.7 M89.5 316.7h0.7 M91.6 283h0.7 M111.7 331h0.7 M92.7 336.3h0.7 M92 349.9h0.7 M92.5 307h0.7 M75.8 338.4h0.7 M77.3 340.1h0.7 M116.5 335.6h0.7 M116.4 321.9h0.7 M91.8 314.3h0.7 M77.4 296.8h0.7 M78.7 305.7h0.7 M57.7 327.6h0.7 M102.9 318.8h0.7 M124.8 341.9h0.7 M117.1 314.1h0.7 M99.4 338.1h0.7 M102 347.7h0.7 M85.1 337h0.7 M70.5 283.4h0.7 M81.3 352h0.7 M75.7 317.8h0.7 M93 328.8h0.7 M68.6 327.3h0.7 M102.7 340h0.7 M73.9 352.9h0.7 M59.8 328.1h0.7 M105.3 304.3h0.7 M107.1 310.7h0.7 M85.7 279.5h0.7 M75 327.6h0.7 M95.6 353.5h0.7 M64.6 284.5h0.7 M102.9 314.4h0.7 M98.9 337.9h0.7 M106.4 351h0.7 M124.5 295h0.7 M90.5 361h0.7 M82.2 342.4h0.7 M90.7 317.4h0.7 M130 343.8h0.7 M86.2 341.3h0.7 M60.5 311.9h0.7 M113.7 325.7h0.7 M66.5 333.1h0.7 M99.9 348.1h0.7 M115 320h0.7 M80.4 322.5h0.7 M86.5 351.3h0.7 M130.1 349.4h0.7 M101.1 320.6h0.7 M113.7 318.7h0.7 M97.7 295h0.7 M81.8 350.9h0.7 M67.4 298.1h0.7 M88.1 355h0.7 M126.8 318.5h0.7 M80.5 323h0.7 M69.7 325.6h0.7 M84.8 298.4h0.7 M78.1 320.4h0.7 M71.3 304.9h0.7 M113.7 359.1h0.7 M85.1 317.4h0.7 M104.1 320.9h0.7 M73.2 350.1h0.7 M67 311.8h0.7 M76.1 309.1h0.7 M86.3 335.4h0.7 M126.6 336.9h0.7 M92.8 302.5h0.7 M90.5 308.1h0.7 M89.7 342.6h0.7 M96.9 321.2h0.7 M73.9 324.6h0.7 M94.7 308.3h0.7 M79.9 340.9h0.7 M64 352.8h0.7 M106.5 334.3h0.7 M101.5 330.2h0.7 M99 296.5h0.7 M98.2 335.7h0.7 M57.7 339.8h0.7 M108 297.6h0.7 M80.7 319.5h0.7 M79.4 332h0.7 M61.4 321h0.7 M97.4 338h0.7 M93.2 320.6h0.7 M108.6 289.2h0.7 M114.4 319.5h0.7 M62 317.3h0.7 M84.2 311h0.7 M109.6 309h0.7 M60.9 307.8h0.7 M133.2 325.5h0.7 M77.3 307.2h0.7 M65.6 322h0.7 M102.3 345.7h0.7 M119.5 329.9h0.7 M76.2 309.5h0.7 M102.1 318.9h0.7 M100.8 300.7h0.7 M113.5 330.3h0.7 M93 332.2h0.7 M70.5 357.6h0.7 M87.6 315.9h0.7 M112.5 306h0.7 M126.1 312.4h0.7 M90.6 308.5h0.7 M111.4 285.9h0.7 M108.6 310.2h0.7 M93.2 304.3h0.7 M97.5 328.4h0.7 M106.2 330.7h0.7 M107 342.9h0.7 M82.7 303.8h0.7 M61.3 337.2h0.7 M83 343.9h0.7 M93.1 306.8h0.7 M113.7 360h0.7 M87.7 308.1h0.7 M71.7 341h0.7 M78 317.7h0.7 M108.4 325.2h0.7 M94.8 315.2h0.7 M76.7 328h0.7 M95.7 335.7h0.7 M80 331.2h0.7 M103.4 326.5h0.7 M105.7 343.2h0.7 M96.8 326.4h0.7 M68.7 330.9h0.7 M89.8 319.4h0.7 M72.2 335.3h0.7 M153.4 332.8h0.7 M94.1 332.9h0.7 M77.8 326.7h0.7 M76.1 313.5h0.7 M97.6 329.1h0.7 M89.3 310.7h0.7 M98.3 305.4h0.7 M110.5 318.8h0.7 M92 339.2h0.7 M105.4 301.7h0.7 M86 331.6h0.7 M65.9 281.7h0.7 M90.3 324.2h0.7 M102.3 326.5h0.7 M95.1 329.3h0.7 M125 333.7h0.7 M105 317.9h0.7 M119 321.6h0.7 M109.7 287.1h0.7 M97.9 323.3h0.7 M80.9 348.2h0.7 M101.7 322.5h0.7 M79.4 358.8h0.7 M109.9 336.8h0.7 M73.7 348.5h0.7 M105.4 320.2h0.7 M89.5 295.8h0.7 M107.6 305.4h0.7 M112.2 317.1h0.7 M77.1 331.6h0.7 M97.1 304.7h0.7 M90.2 335.9h0.7 M86 300.9h0.7 M86.2 307.7h0.7 M78.2 325.8h0.7 M90.7 321.2h0.7 M87.2 317.7h0.7 M95.7 359.6h0.7 M61.2 296.2h0.7 M110.2 310.8h0.7 M123.1 307.4h0.7 M80.4 340h0.7 M113.8 332.9h0.7 M102.9 322.7h0.7 M81.5 321.4h0.7 M122.3 337.7h0.7 M92.4 330.7h0.7 M111.8 346.2h0.7 M88.8 323.6h0.7 M97.8 347.7h0.7 M58.5 305.7h0.7 M76.9 322.4h0.7 M96.3 331.6h0.7 M97.4 317.2h0.7 M153.8 332h0.7 M107.9 361.2h0.7 M115 335.3h0.7 M99.7 358.4h0.7 M66.3 307.9h0.7 M95.5 288.6h0.7 M73.5 345.1h0.7 M81 327.9h0.7 M108.5 304.2h0.7 M98.5 313.8h0.7 M66 320.1h0.7 M90.7 317.9h0.7 M76.3 342.1h0.7 M119.4 334.9h0.7 M89.7 306.2h0.7 M72.5 305.3h0.7" stroke="#a0a0a0" stroke-width="0.7" fill="none"/>
<path d="M213 341.3h0.7 M229.7 324.6h0.7 M198.9 328.2h0.7 M210.9 335.6h0.7 M243.1 312.8h0.7 M257.7 287.6h0.7 M183.6 320.8h0.7 M257.1 312.5h0.7 M234.2 318.6h0.7 M211.6 306.8h0.7 M262 324.3h0.7 M212.3 332.4h0.7 M204.5 310.2h0.7 M174 321.9h0.7 M246.4 332.5h0.7 M203.8 343.9h0.7 M185.8 349.5h0.7 M207.6 310.2h0.7 M224.1 334.2h0.7 M199.8 328.8h0.7 M231.3 350.1h0.7 M187.9 278.1h0.7 M256.7 320.3h0.7 M198.1 332.7h0.7 M197.8 343.6h0.7 M178.4 321.3h0.7 M178.1 352.2h0.7 M202.1 344.6h0.7 M241 303.7h0.7 M202.8 337.8h0.7 M209.2 322.6h0.7 M228 341.3h0.7 M193.9 322.6h0.7 M223.4 328.8h0.7 M211.4 305h0.7 M249.8 320.9h0.7 M214.4 324.4h0.7 M209.6 327.7h0.7 M188.1 331.7h0.7 M236.6 332.2h0.7 M225.2 333.6h0.7 M208.8 357.4h0.7 M191.8 331.9h0.7 M232.5 330.2h0.7 M182.9 305.6h0.7 M245.2 307.9h0.7 M208.2 334.7h0.7 M210.2 293.3h0.7 M189.6 320.3h0.7 M210.2 327.9h0.7 M176.2 295h0.7 M230.4 313.8h0.7 M180.1 289.3h0.7 M220.8 302.5h0.7 M183.1 336.1h0.7 M215.3 335.1h0.7 M177.8 273.8h0.7 M184.5 319.6h0.7 M192.2 340.9h0.7 M216.6 306.3h0.7 M221.5 322.4h0.7 M196.4 345.1h0.7 M234 288.2h0.7 M203.4 322.1h0.7 M180.9 314.7h0.7 M188.6 326.1h0.7 M194.7 286.6h0.7 M236.5 341.1h0.7 M188.1 340.7h0.7 M256.3 297.1h0.7 M198.2 315.7h0.7 M221.3 319.6h0.7 M174.5 347.6h0.7 M200.3 338.1h0.7 M262.8 311.6h0.7 M198.2 341.4h0.7 M205.5 334.4h0.7 M223.2 331.2h0.7 M211 332h0.7 M225.9 303.4h0.7 M209 323.3h0.7 M225.2 331h0.7 M189.2 326.5h0.7 M200.9 323.4h0.7 M240.2 355.8h0.7 M192.2 301.9h0.7 M213 329.7h0.7 M208.9 313.8h0.7 M224.5 356.1h0.7 M213.4 321h0.7 M236.8 319.6h0.7 M199.6 330.8h0.7 M205.6 334.4h0.7 M215.6 332.4h0.7 M176 357h0.7 M221.9 330.5h0.7 M225.9 323.3h0.7 M206.1 328.4h0.7 M185.5 349.7h0.7 M214.2 302.1h0.7 M178.9 330h0.7 M180.3 332.9h0.7 M216 314.6h0.7 M216.7 315.8h0.7 M252.7 317.2h0.7 M217.3 337.3h0.7 M210.3 330.7h0.7 M232.4 322.5h0.7 M216.2 318.6h0.7 M256.3 328.2h0.7 M228.2 271.5h0.7 M196.4 304.8h0.7 M209.1 317.1h0.7 M182.9 320.1h0.7 M227.7 344.4h0.7 M195.3 344.2h0.7 M193.3 336.2h0.7 M187.5 344h0.7 M263.9 319.8h0.7 M237.5 299h0.7 M206.5 334.2h0.7 M189.3 346.8h0.7 M181.8 331h0.7 M237.3 323.1h0.7 M176.9 334h0.7 M230.9 333h0.7 M231.9 299.5h0.7 M251.9 337.9h0.7 M196.8 334.3h0.7 M202.5 308.4h0.7 M199.1 345.3h0.7 M189.3 335.3h0.7 M179.7 295.1h0.7 M196.4 319.9h0.7 M212.3 342h0.7 M198.1 318.5h0.7 M226.4 332.8h0.7 M206.8 329.3h0.7 M229.6 294.8h0.7 M230.1 314.9h0.7 M203 316.7h0.7 M225.1 313h0.7 M204.4 336.4h0.7 M222.5 303.2h0.7 M212.9 327.2h0.7 M206.3 326.8h0.7 M215.6 315h0.7 M204.4 342.7h0.7 M182.5 323.6h0.7 M183.7 305.9h0.7 M198 328.2h0.7 M244.5 321.4h0.7 M230.4 334.7h0.7 M209.7 269.2h0.7 M211 326h0.7 M183.1 327.4h0.7 M243.4 304.3h0.7 M195.7 341.3h0.7 M215.1 342.1h0.7 M237.2 338.6h0.7 M263.3 332h0.7 M177 321.5h0.7 M223 331.7h0.7 M188.9 321.4h0.7 M243.1 322h0.7 M192.1 322.9h0.7 M192.5 361.8h0.7 M227.8 341.4h0.7 M191.6 313.5h0.7 M214.2 285.8h0.7 M232.6 302h0.7 M210.4 331.1h0.7 M189.1 331.4h0.7 M224.8 359.2h0.7 M217.4 357.7h0.7 M219.2 321.5h0.7 M228.7 315.6h0.7 M211.7 336.2h0.7 M235.4 330h0.7 M212.1 319.7h0.7 M188.6 335.4h0.7 M216 337.3h0.7 M204.9 352.6h0.7 M201.7 332.4h0.7 M212.8 344.1h0.7 M191.5 319.6h0.7 M202.8 313.1h0.7 M192.3 303.3h0.7 M226 351.8h0.7 M184.5 338.8h0.7 M180.4 310.4h0.7 M200.4 327.2h0.7 M218.9 290.3h0.7 M176.5 326.5h0.7 M201.3 313.3h0.7 M236.9 277h0.7 M193 326.2h0.7 M203.5 309h0.7 M204.5 301.3h0.7 M230.9 338.8h0.7 M224.2 308.5h0.7 M181.6 331.9h0.7 M211.1 332.6h0.7 M210.1 302.2h0.7 M191.5 360.9h0.7 M230.4 310.1h0.7 M253.5 322.5h0.7 M207.8 310.1h0.7 M244.1 326.8h0.7 M205.9 308.3h0.7 M177.2 328.1h0.7 M208 352.8h0.7 M186.1 318.2h0.7 M231.5 339.5h0.7 M191.7 351.2h0.7 M219.2 340.9h0.7 M216.2 342.4h0.7 M197.9 321h0.7 M233.9 332h0.7 M216.5 345.4h0.7 M213.5 332.2h0.7 M227.6 309.1h0.7 M200.9 329h0.7 M204.6 340.4h0.7 M219.2 321.8h0.7 M233.9 318.4h0.7 M190.9 330.7h0.7 M223 322.3h0.7 M182.1 315.7h0.7 M213.3 337.1h0.7 M250.3 322.1h0.7 M202.6 286.3h0.7 M238.5 341.3h0.7 M208.1 312.1h0.7 M189.1 352h0.7 M226.1 348h0.7 M204.5 346.3h0.7 M174.3 351.1h0.7 M207.1 303.7h0.7 M198.3 307.4h0.7 M214.2 311.9h0.7 M177.4 318.5h0.7 M202.3 328.6h0.7 M224.5 347.6h0.7 M217.7 354.4h0.7 M230.3 301.3h0.7 M203 328.9h0.7 M222.2 319.2h0.7 M206.2 304.3h0.7 M207 314.8h0.7 M173.7 317.7h0.7 M196.7 318.5h0.7 M229.9 344.1h0.7 M217.8 318.5h0.7 M218 325.3h0.7 M213.2 307.5h0.7 M193.6 316h0.7 M207.5 323.9h0.7 M200.7 352.3h0.7 M211 329.1h0.7 M186.7 323.2h0.7 M218.9 323.5h0.7 M215.7 308.1h0.7 M216.9 306.6h0.7 M197.4 311.1h0.7 M212.2 344.5h0.7 M214.9 309.2h0.7 M211.1 343.5h0.7 M225.2 333.9h0.7 M181 315h0.7 M191.7 316.4h0.7 M213.5 325.6h0.7 M199.6 335.1h0.7 M190.9 319.1h0.7 M210.4 300.7h0.7 M187.5 300h0.7 M182.9 322.4h0.7 M204.9 331.1h0.7 M215.8 304.6h0.7 M252.4 349.1h0.7 M178.8 312.6h0.7 M196.5 328.5h0.7 M222.6 325h0.7 M228.3 339.7h0.7 M190 326.7h0.7 M230.1 316.5h0.7 M235.1 326.5h0.7 M245.7 325.8h0.7 M243.5 296.3h0.7 M242.4 333h0.7 M198.8 344.2h0.7 M201.6 339.6h0.7 M230.6 343.7h0.7 M260.6 349.5h0.7 M267.6 337.6h0.7 M211.6 332h0.7 M207 302.9h0.7 M211.4 303.7h0.7 M201.2 319.5h0.7 M194.8 305.8h0.7 M210.6 324.5h0.7 M240.8 336.2h0.7 M230.5 316.6h0.7 M200.5 302.6h0.7 M187.2 337.8h0.7 M203.3 322.4h0.7 M194.5 352.7h0.7 M206.6 345.4h0.7 M207 341.9h0.7 M184.8 300.9h0.7 M234.3 319.5h0.7 M214.4 340.6h0.7 M224.6 329.8h0.7 M179.6 312.5h0.7 M208.8 336.4h0.7 M220.3 331.5h0.7 M189.6 324.9h0.7 M231.1 309.5h0.7 M194.3 341.1h0.7 M245.8 332.3h0.7 M208.2 307.9h0.7 M205.1 310.8h0.7 M211.3 337.7h0.7 M218.8 348.2h0.7 M183.7 302.4h0.7 M240.5 343.6h0.7 M184.8 327.4h0.7 M182.4 324.6h0.7 M215.4 342.2h0.7 M184.9 302.3h0.7 M221.6 319h0.7 M241.4 304.6h0.7 M192.6 276.2h0.7 M234.9 348.7h0.7 M217.9 319.6h0.7 M195.4 359.1h0.7 M229.3 314.3h0.7 M218.2 334.9h0.7 M220.1 308.5h0.7 M197.6 342.8h0.7 M224.5 319h0.7" stroke="#a0a0a0" stroke-width="0.7" fill="none"/>
<g font-size="9.6" font-weight="bold" text-anchor="end">
<text x="336.2" y="184.1">0</text>
<text x="336.2" y="162.9">500</text>
<text x="336.2" y="141.8">1000</text>
<text x="336.2" y="120.6">1500</text>
<text x="336.2" y="99.4">2000</text>
<text x="336.2" y="78.2">2500</text>
<text x="336.2" y="57.1">3000</text>
<text x="336.2" y="35.9">3500</text>
</g>
<path d="M344.8 32.6 V180.8 H517.8 M342.8 180.8 h2 M342.8 159.6 h2 M342.8 138.5 h2 M342.8 117.3 h2 M342.8 96.1 h2 M342.8 74.9 h2 M342.8 53.8 h2 M342.8 32.6 h2" stroke="#777" stroke-width="1.2" fill="none"/>
<path d="M345.3 180.8 v2.5 M374.1 180.8 v2.5 M402.8 180.8 v2.5 M431.6 180.8 v2.5 M460.4 180.8 v2.5 M489.1 180.8 v2.5 M517.9 180.8 v2.5" stroke="#777" stroke-width="1" fill="none"/>
<path d="M355.4 173.5 V171.2 M352.9 171.2 h5" stroke="#555" stroke-width="0.9" fill="none"/>
<path d="M364 173.5 V171.2 M361.5 171.2 h5" stroke="#555" stroke-width="0.9" fill="none"/>
<rect x="351.1" y="173.5" width="8.6" height="7.3" fill="#000"/>
<rect x="360.1" y="174" width="7.7" height="6.8" fill="#fff" stroke="#000" stroke-width="0.9"/>
<path d="M384.2 166.4 V161.2 M381.7 161.2 h5" stroke="#555" stroke-width="0.9" fill="none"/>
<path d="M392.8 167.3 V163.5 M390.3 163.5 h5" stroke="#555" stroke-width="0.9" fill="none"/>
<rect x="379.9" y="166.4" width="8.6" height="14.4" fill="#000"/>
<rect x="388.9" y="167.7" width="7.7" height="13.1" fill="#fff" stroke="#000" stroke-width="0.9"/>
<path d="M412.9 127 V117.3 M410.4 117.3 h5" stroke="#555" stroke-width="0.9" fill="none"/>
<path d="M421.5 127 V106.3 M419 106.3 h5" stroke="#555" stroke-width="0.9" fill="none"/>
<rect x="408.6" y="127" width="8.6" height="53.8" fill="#000"/>
<rect x="417.7" y="127.5" width="7.7" height="53.3" fill="#fff" stroke="#000" stroke-width="0.9"/>
<path d="M441.7 121.1 V111.4 M439.2 111.4 h5" stroke="#555" stroke-width="0.9" fill="none"/>
<path d="M450.3 121.1 V101.2 M447.8 101.2 h5" stroke="#555" stroke-width="0.9" fill="none"/>
<rect x="437.4" y="121.1" width="8.6" height="59.7" fill="#000"/>
<rect x="446.5" y="121.5" width="7.7" height="59.3" fill="#fff" stroke="#000" stroke-width="0.9"/>
<path d="M470.5 127.7 V112.4 M468 112.4 h5" stroke="#555" stroke-width="0.9" fill="none"/>
<path d="M479.1 126.2 V110.1 M476.6 110.1 h5" stroke="#555" stroke-width="0.9" fill="none"/>
<rect x="466.2" y="127.7" width="8.6" height="53.1" fill="#000"/>
<rect x="475.2" y="126.6" width="7.7" height="54.2" fill="#fff" stroke="#000" stroke-width="0.9"/>
<path d="M499.2 69.7 V44.5 M496.7 44.5 h5" stroke="#555" stroke-width="0.9" fill="none"/>
<path d="M507.8 80.9 V69.4 M505.3 69.4 h5" stroke="#555" stroke-width="0.9" fill="none"/>
<rect x="494.9" y="69.7" width="8.6" height="111.2" fill="#000"/>
<rect x="504" y="81.3" width="7.7" height="99.5" fill="#fff" stroke="#000" stroke-width="0.9"/>
<rect x="362" y="48.8" width="7" height="6.8" fill="#000"/>
<rect x="362.3" y="64.6" width="6.6" height="7" fill="#fff" stroke="#333" stroke-width="0.9"/>
<text x="371.3" y="55.6" font-size="12" font-weight="bold">+/+</text>
<text x="371.8" y="71.6" font-size="12" font-weight="bold">-/-</text>
<text transform="translate(306.2 179) rotate(-90)" font-size="9.5" font-weight="bold">Number of cells per million cells</text>
<g font-size="10" font-weight="bold" text-anchor="end">
<text transform="translate(354.5 196.4) rotate(-45)">LT-HSC</text>
<text transform="translate(383.3 196.4) rotate(-45)">ST-HSC/MPP</text>
<text transform="translate(412 196.4) rotate(-45)">CMP</text>
<text transform="translate(440.8 196.4) rotate(-45)">GMP</text>
<text transform="translate(469.6 196.4) rotate(-45)">MEP</text>
<text transform="translate(498.3 196.4) rotate(-45)">CLP</text>
</g>
</svg></body></html>
